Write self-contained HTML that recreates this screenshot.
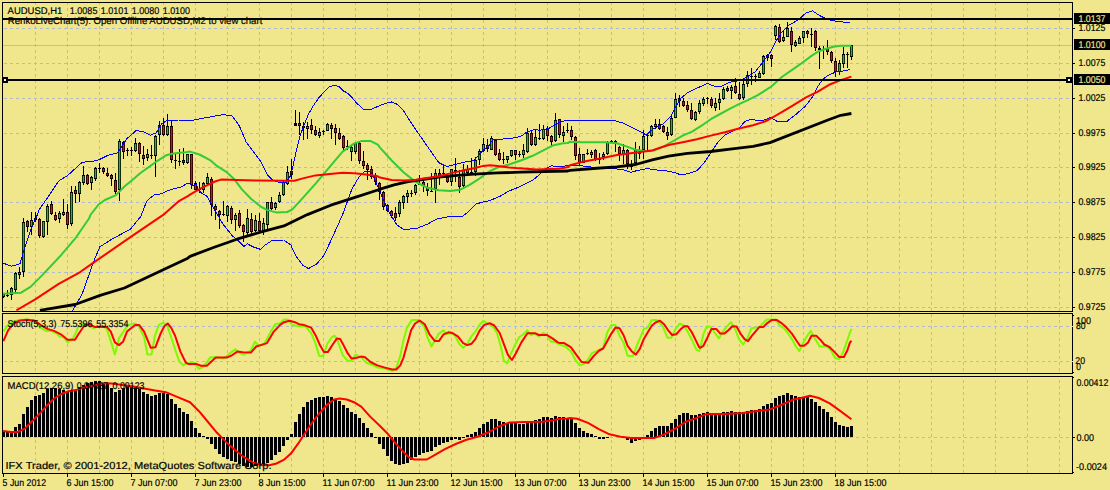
<!DOCTYPE html>
<html><head><meta charset="utf-8"><title>AUDUSD,H1</title>
<style>html,body{margin:0;padding:0;background:#f0e68c;overflow:hidden}body{width:1110px;height:490px}</style></head>
<body>
<svg width="1110" height="490" viewBox="0 0 1110 490" style="display:block;font-family:'Liberation Sans',sans-serif">
<rect width="1110" height="490" fill="#f0e68c"/>
<defs>
<clipPath id="cm"><rect x="3" y="3" width="1069" height="308"/></clipPath>
<clipPath id="cs"><rect x="3" y="314" width="1069" height="59"/></clipPath>
<clipPath id="cc"><rect x="3" y="377" width="1069" height="96"/></clipPath>
</defs>
<g shape-rendering="crispEdges">
<path d="M35.5 2V473" stroke="#b4b9cc" stroke-width="1" stroke-dasharray="3 3" stroke-dashoffset="0" fill="none"/>
<path d="M67.5 2V473" stroke="#b4b9cc" stroke-width="1" stroke-dasharray="3 3" stroke-dashoffset="0" fill="none"/>
<path d="M99.5 2V473" stroke="#b4b9cc" stroke-width="1" stroke-dasharray="3 3" stroke-dashoffset="0" fill="none"/>
<path d="M131.5 2V473" stroke="#b4b9cc" stroke-width="1" stroke-dasharray="3 3" stroke-dashoffset="0" fill="none"/>
<path d="M163.5 2V473" stroke="#b4b9cc" stroke-width="1" stroke-dasharray="3 3" stroke-dashoffset="0" fill="none"/>
<path d="M195.5 2V473" stroke="#b4b9cc" stroke-width="1" stroke-dasharray="3 3" stroke-dashoffset="0" fill="none"/>
<path d="M227.5 2V473" stroke="#b4b9cc" stroke-width="1" stroke-dasharray="3 3" stroke-dashoffset="0" fill="none"/>
<path d="M259.5 2V473" stroke="#b4b9cc" stroke-width="1" stroke-dasharray="3 3" stroke-dashoffset="0" fill="none"/>
<path d="M291.5 2V473" stroke="#b4b9cc" stroke-width="1" stroke-dasharray="3 3" stroke-dashoffset="0" fill="none"/>
<path d="M323.5 2V473" stroke="#b4b9cc" stroke-width="1" stroke-dasharray="3 3" stroke-dashoffset="0" fill="none"/>
<path d="M355.5 2V473" stroke="#b4b9cc" stroke-width="1" stroke-dasharray="3 3" stroke-dashoffset="0" fill="none"/>
<path d="M387.5 2V473" stroke="#b4b9cc" stroke-width="1" stroke-dasharray="3 3" stroke-dashoffset="0" fill="none"/>
<path d="M419.5 2V473" stroke="#b4b9cc" stroke-width="1" stroke-dasharray="3 3" stroke-dashoffset="0" fill="none"/>
<path d="M451.5 2V473" stroke="#b4b9cc" stroke-width="1" stroke-dasharray="3 3" stroke-dashoffset="0" fill="none"/>
<path d="M483.5 2V473" stroke="#b4b9cc" stroke-width="1" stroke-dasharray="3 3" stroke-dashoffset="0" fill="none"/>
<path d="M515.5 2V473" stroke="#b4b9cc" stroke-width="1" stroke-dasharray="3 3" stroke-dashoffset="0" fill="none"/>
<path d="M547.5 2V473" stroke="#b4b9cc" stroke-width="1" stroke-dasharray="3 3" stroke-dashoffset="0" fill="none"/>
<path d="M579.5 2V473" stroke="#b4b9cc" stroke-width="1" stroke-dasharray="3 3" stroke-dashoffset="0" fill="none"/>
<path d="M611.5 2V473" stroke="#b4b9cc" stroke-width="1" stroke-dasharray="3 3" stroke-dashoffset="0" fill="none"/>
<path d="M643.5 2V473" stroke="#b4b9cc" stroke-width="1" stroke-dasharray="3 3" stroke-dashoffset="0" fill="none"/>
<path d="M675.5 2V473" stroke="#b4b9cc" stroke-width="1" stroke-dasharray="3 3" stroke-dashoffset="0" fill="none"/>
<path d="M707.5 2V473" stroke="#b4b9cc" stroke-width="1" stroke-dasharray="3 3" stroke-dashoffset="0" fill="none"/>
<path d="M739.5 2V473" stroke="#b4b9cc" stroke-width="1" stroke-dasharray="3 3" stroke-dashoffset="0" fill="none"/>
<path d="M771.5 2V473" stroke="#b4b9cc" stroke-width="1" stroke-dasharray="3 3" stroke-dashoffset="0" fill="none"/>
<path d="M803.5 2V473" stroke="#b4b9cc" stroke-width="1" stroke-dasharray="3 3" stroke-dashoffset="0" fill="none"/>
<path d="M835.5 2V473" stroke="#b4b9cc" stroke-width="1" stroke-dasharray="3 3" stroke-dashoffset="0" fill="none"/>
<path d="M867.5 2V473" stroke="#b4b9cc" stroke-width="1" stroke-dasharray="3 3" stroke-dashoffset="0" fill="none"/>
<path d="M899.5 2V473" stroke="#b4b9cc" stroke-width="1" stroke-dasharray="3 3" stroke-dashoffset="0" fill="none"/>
<path d="M931.5 2V473" stroke="#b4b9cc" stroke-width="1" stroke-dasharray="3 3" stroke-dashoffset="0" fill="none"/>
<path d="M963.5 2V473" stroke="#b4b9cc" stroke-width="1" stroke-dasharray="3 3" stroke-dashoffset="0" fill="none"/>
<path d="M995.5 2V473" stroke="#b4b9cc" stroke-width="1" stroke-dasharray="3 3" stroke-dashoffset="0" fill="none"/>
<path d="M1027.5 2V473" stroke="#b4b9cc" stroke-width="1" stroke-dasharray="3 3" stroke-dashoffset="0" fill="none"/>
<path d="M1059.5 2V473" stroke="#b4b9cc" stroke-width="1" stroke-dasharray="3 3" stroke-dashoffset="0" fill="none"/>
<rect x="0" y="312" width="1110" height="1" fill="#f0e68c"/>
<rect x="0" y="374" width="1110" height="2" fill="#f0e68c"/>
<path d="M4 28.5H1070" stroke="#b4b9cc" stroke-width="1" stroke-dasharray="3 3" fill="none"/>
<path d="M4 63.5H1070" stroke="#b4b9cc" stroke-width="1" stroke-dasharray="3 3" fill="none"/>
<path d="M4 98.5H1070" stroke="#b4b9cc" stroke-width="1" stroke-dasharray="3 3" fill="none"/>
<path d="M4 133.5H1070" stroke="#b4b9cc" stroke-width="1" stroke-dasharray="3 3" fill="none"/>
<path d="M4 167.5H1070" stroke="#b4b9cc" stroke-width="1" stroke-dasharray="3 3" fill="none"/>
<path d="M4 202.5H1070" stroke="#b4b9cc" stroke-width="1" stroke-dasharray="3 3" fill="none"/>
<path d="M4 237.5H1070" stroke="#b4b9cc" stroke-width="1" stroke-dasharray="3 3" fill="none"/>
<path d="M4 272.5H1070" stroke="#b4b9cc" stroke-width="1" stroke-dasharray="3 3" fill="none"/>
<path d="M4 307.5H1070" stroke="#b4b9cc" stroke-width="1" stroke-dasharray="3 3" fill="none"/>
<path d="M4 326.5H1070" stroke="#b4b9cc" stroke-width="1" stroke-dasharray="3 3" fill="none"/>
<path d="M4 361.5H1070" stroke="#b4b9cc" stroke-width="1" stroke-dasharray="3 3" fill="none"/>
<path d="M4 437.5H1070" stroke="#b4b9cc" stroke-width="1" stroke-dasharray="3 3" fill="none"/>
<rect x="3" y="45" width="1069" height="1" fill="#b8bcc8"/>
</g>
<g clip-path="url(#cm)">
<g shape-rendering="crispEdges">
<rect x="3" y="293" width="1" height="5" fill="#000"/>
<rect x="2" y="294" width="3" height="3" fill="#000"/>
<rect x="2.75" y="295" width="1.5" height="1" fill="#28b828" shape-rendering="auto"/>
<rect x="7" y="290" width="1" height="7" fill="#000"/>
<rect x="6" y="295" width="3" height="1" fill="#000"/>
<rect x="11" y="287" width="1" height="13" fill="#000"/>
<rect x="10" y="288" width="3" height="7" fill="#000"/>
<rect x="10.75" y="289" width="1.5" height="5" fill="#28b828" shape-rendering="auto"/>
<rect x="15" y="272" width="1" height="21" fill="#000"/>
<rect x="14" y="273" width="3" height="17" fill="#000"/>
<rect x="14.75" y="274" width="1.5" height="15" fill="#28b828" shape-rendering="auto"/>
<rect x="19" y="267" width="1" height="12" fill="#000"/>
<rect x="18" y="272" width="3" height="3" fill="#000"/>
<rect x="18.75" y="273" width="1.5" height="1" fill="#28b828" shape-rendering="auto"/>
<rect x="23" y="218" width="1" height="59" fill="#000"/>
<rect x="22" y="222" width="3" height="50" fill="#000"/>
<rect x="22.75" y="223" width="1.5" height="48" fill="#28b828" shape-rendering="auto"/>
<rect x="27" y="220" width="1" height="12" fill="#000"/>
<rect x="26" y="221" width="3" height="6" fill="#000"/>
<rect x="26.75" y="222" width="1.5" height="4" fill="#f00808" shape-rendering="auto"/>
<rect x="31" y="212" width="1" height="23" fill="#000"/>
<rect x="30" y="220" width="3" height="7" fill="#000"/>
<rect x="30.75" y="221" width="1.5" height="5" fill="#28b828" shape-rendering="auto"/>
<rect x="35" y="212" width="1" height="10" fill="#000"/>
<rect x="34" y="218" width="3" height="2" fill="#000"/>
<rect x="39" y="218" width="1" height="20" fill="#000"/>
<rect x="38" y="219" width="3" height="17" fill="#000"/>
<rect x="38.75" y="220" width="1.5" height="15" fill="#f00808" shape-rendering="auto"/>
<rect x="43" y="221" width="1" height="17" fill="#000"/>
<rect x="42" y="221" width="3" height="16" fill="#000"/>
<rect x="42.75" y="222" width="1.5" height="14" fill="#28b828" shape-rendering="auto"/>
<rect x="47" y="204" width="1" height="31" fill="#000"/>
<rect x="46" y="206" width="3" height="16" fill="#000"/>
<rect x="46.75" y="207" width="1.5" height="14" fill="#28b828" shape-rendering="auto"/>
<rect x="51" y="201" width="1" height="14" fill="#000"/>
<rect x="50" y="204" width="3" height="10" fill="#000"/>
<rect x="50.75" y="205" width="1.5" height="8" fill="#f00808" shape-rendering="auto"/>
<rect x="55" y="212" width="1" height="9" fill="#000"/>
<rect x="54" y="215" width="3" height="5" fill="#000"/>
<rect x="54.75" y="216" width="1.5" height="3" fill="#f00808" shape-rendering="auto"/>
<rect x="59" y="211" width="1" height="12" fill="#000"/>
<rect x="58" y="213" width="3" height="6" fill="#000"/>
<rect x="58.75" y="214" width="1.5" height="4" fill="#28b828" shape-rendering="auto"/>
<rect x="63" y="199" width="1" height="17" fill="#000"/>
<rect x="62" y="212" width="3" height="3" fill="#000"/>
<rect x="62.75" y="213" width="1.5" height="1" fill="#28b828" shape-rendering="auto"/>
<rect x="67" y="204" width="1" height="25" fill="#000"/>
<rect x="66" y="212" width="3" height="13" fill="#000"/>
<rect x="66.75" y="213" width="1.5" height="11" fill="#f00808" shape-rendering="auto"/>
<rect x="71" y="186" width="1" height="40" fill="#000"/>
<rect x="70" y="192" width="3" height="32" fill="#000"/>
<rect x="70.75" y="193" width="1.5" height="30" fill="#28b828" shape-rendering="auto"/>
<rect x="75" y="186" width="1" height="17" fill="#000"/>
<rect x="74" y="190" width="3" height="4" fill="#000"/>
<rect x="74.75" y="191" width="1.5" height="2" fill="#f00808" shape-rendering="auto"/>
<rect x="79" y="181" width="1" height="21" fill="#000"/>
<rect x="78" y="182" width="3" height="12" fill="#000"/>
<rect x="78.75" y="183" width="1.5" height="10" fill="#28b828" shape-rendering="auto"/>
<rect x="83" y="166" width="1" height="19" fill="#000"/>
<rect x="82" y="175" width="3" height="8" fill="#000"/>
<rect x="82.75" y="176" width="1.5" height="6" fill="#28b828" shape-rendering="auto"/>
<rect x="87" y="174" width="1" height="11" fill="#000"/>
<rect x="86" y="175" width="3" height="9" fill="#000"/>
<rect x="86.75" y="176" width="1.5" height="7" fill="#f00808" shape-rendering="auto"/>
<rect x="91" y="176" width="1" height="14" fill="#000"/>
<rect x="90" y="177" width="3" height="6" fill="#000"/>
<rect x="90.75" y="178" width="1.5" height="4" fill="#28b828" shape-rendering="auto"/>
<rect x="95" y="167" width="1" height="14" fill="#000"/>
<rect x="94" y="168" width="3" height="11" fill="#000"/>
<rect x="94.75" y="169" width="1.5" height="9" fill="#28b828" shape-rendering="auto"/>
<rect x="99" y="163" width="1" height="10" fill="#000"/>
<rect x="98" y="168" width="3" height="1" fill="#000"/>
<rect x="103" y="167" width="1" height="7" fill="#000"/>
<rect x="102" y="168" width="3" height="4" fill="#000"/>
<rect x="102.75" y="169" width="1.5" height="2" fill="#f00808" shape-rendering="auto"/>
<rect x="107" y="168" width="1" height="9" fill="#000"/>
<rect x="106" y="173" width="3" height="3" fill="#000"/>
<rect x="106.75" y="174" width="1.5" height="1" fill="#f00808" shape-rendering="auto"/>
<rect x="111" y="174" width="1" height="12" fill="#000"/>
<rect x="110" y="175" width="3" height="4" fill="#000"/>
<rect x="110.75" y="176" width="1.5" height="2" fill="#f00808" shape-rendering="auto"/>
<rect x="115" y="173" width="1" height="21" fill="#000"/>
<rect x="114" y="180" width="3" height="12" fill="#000"/>
<rect x="114.75" y="181" width="1.5" height="10" fill="#f00808" shape-rendering="auto"/>
<rect x="119" y="139" width="1" height="62" fill="#000"/>
<rect x="118" y="141" width="3" height="49" fill="#000"/>
<rect x="118.75" y="142" width="1.5" height="47" fill="#28b828" shape-rendering="auto"/>
<rect x="123" y="141" width="1" height="18" fill="#000"/>
<rect x="122" y="142" width="3" height="10" fill="#000"/>
<rect x="122.75" y="143" width="1.5" height="8" fill="#f00808" shape-rendering="auto"/>
<rect x="127" y="148" width="1" height="8" fill="#000"/>
<rect x="126" y="150" width="3" height="1" fill="#000"/>
<rect x="131" y="147" width="1" height="9" fill="#000"/>
<rect x="130" y="150" width="3" height="1" fill="#000"/>
<rect x="135" y="138" width="1" height="14" fill="#000"/>
<rect x="134" y="143" width="3" height="8" fill="#000"/>
<rect x="134.75" y="144" width="1.5" height="6" fill="#28b828" shape-rendering="auto"/>
<rect x="139" y="142" width="1" height="20" fill="#000"/>
<rect x="138" y="143" width="3" height="11" fill="#000"/>
<rect x="138.75" y="144" width="1.5" height="9" fill="#f00808" shape-rendering="auto"/>
<rect x="143" y="146" width="1" height="19" fill="#000"/>
<rect x="142" y="155" width="3" height="4" fill="#000"/>
<rect x="142.75" y="156" width="1.5" height="2" fill="#f00808" shape-rendering="auto"/>
<rect x="147" y="149" width="1" height="12" fill="#000"/>
<rect x="146" y="154" width="3" height="4" fill="#000"/>
<rect x="146.75" y="155" width="1.5" height="2" fill="#28b828" shape-rendering="auto"/>
<rect x="151" y="145" width="1" height="14" fill="#000"/>
<rect x="150" y="155" width="3" height="1" fill="#000"/>
<rect x="155" y="135" width="1" height="42" fill="#000"/>
<rect x="154" y="136" width="3" height="20" fill="#000"/>
<rect x="154.75" y="137" width="1.5" height="18" fill="#28b828" shape-rendering="auto"/>
<rect x="159" y="121" width="1" height="24" fill="#000"/>
<rect x="158" y="125" width="3" height="10" fill="#000"/>
<rect x="158.75" y="126" width="1.5" height="8" fill="#28b828" shape-rendering="auto"/>
<rect x="163" y="118" width="1" height="18" fill="#000"/>
<rect x="162" y="125" width="3" height="10" fill="#000"/>
<rect x="162.75" y="126" width="1.5" height="8" fill="#f00808" shape-rendering="auto"/>
<rect x="167" y="114" width="1" height="22" fill="#000"/>
<rect x="166" y="126" width="3" height="9" fill="#000"/>
<rect x="166.75" y="127" width="1.5" height="7" fill="#28b828" shape-rendering="auto"/>
<rect x="171" y="120" width="1" height="43" fill="#000"/>
<rect x="170" y="126" width="3" height="34" fill="#000"/>
<rect x="170.75" y="127" width="1.5" height="32" fill="#f00808" shape-rendering="auto"/>
<rect x="175" y="153" width="1" height="16" fill="#000"/>
<rect x="174" y="160" width="3" height="1" fill="#000"/>
<rect x="179" y="149" width="1" height="17" fill="#000"/>
<rect x="178" y="161" width="3" height="1" fill="#000"/>
<rect x="183" y="148" width="1" height="17" fill="#000"/>
<rect x="182" y="160" width="3" height="3" fill="#000"/>
<rect x="182.75" y="161" width="1.5" height="1" fill="#f00808" shape-rendering="auto"/>
<rect x="187" y="154" width="1" height="10" fill="#000"/>
<rect x="186" y="154" width="3" height="9" fill="#000"/>
<rect x="186.75" y="155" width="1.5" height="7" fill="#28b828" shape-rendering="auto"/>
<rect x="191" y="154" width="1" height="35" fill="#000"/>
<rect x="190" y="154" width="3" height="31" fill="#000"/>
<rect x="190.75" y="155" width="1.5" height="29" fill="#f00808" shape-rendering="auto"/>
<rect x="195" y="181" width="1" height="9" fill="#000"/>
<rect x="194" y="183" width="3" height="7" fill="#000"/>
<rect x="194.75" y="184" width="1.5" height="5" fill="#f00808" shape-rendering="auto"/>
<rect x="199" y="182" width="1" height="11" fill="#000"/>
<rect x="198" y="189" width="3" height="1" fill="#000"/>
<rect x="203" y="182" width="1" height="11" fill="#000"/>
<rect x="202" y="183" width="3" height="7" fill="#000"/>
<rect x="202.75" y="184" width="1.5" height="5" fill="#28b828" shape-rendering="auto"/>
<rect x="207" y="173" width="1" height="13" fill="#000"/>
<rect x="206" y="177" width="3" height="7" fill="#000"/>
<rect x="206.75" y="178" width="1.5" height="5" fill="#28b828" shape-rendering="auto"/>
<rect x="211" y="177" width="1" height="39" fill="#000"/>
<rect x="210" y="179" width="3" height="26" fill="#000"/>
<rect x="210.75" y="180" width="1.5" height="24" fill="#f00808" shape-rendering="auto"/>
<rect x="215" y="204" width="1" height="16" fill="#000"/>
<rect x="214" y="206" width="3" height="4" fill="#000"/>
<rect x="214.75" y="207" width="1.5" height="2" fill="#f00808" shape-rendering="auto"/>
<rect x="219" y="210" width="1" height="19" fill="#000"/>
<rect x="218" y="211" width="3" height="4" fill="#000"/>
<rect x="218.75" y="212" width="1.5" height="2" fill="#f00808" shape-rendering="auto"/>
<rect x="223" y="201" width="1" height="15" fill="#000"/>
<rect x="222" y="214" width="3" height="1" fill="#000"/>
<rect x="227" y="205" width="1" height="17" fill="#000"/>
<rect x="226" y="206" width="3" height="10" fill="#000"/>
<rect x="226.75" y="207" width="1.5" height="8" fill="#28b828" shape-rendering="auto"/>
<rect x="231" y="206" width="1" height="18" fill="#000"/>
<rect x="230" y="208" width="3" height="12" fill="#000"/>
<rect x="230.75" y="209" width="1.5" height="10" fill="#f00808" shape-rendering="auto"/>
<rect x="235" y="213" width="1" height="18" fill="#000"/>
<rect x="234" y="215" width="3" height="5" fill="#000"/>
<rect x="234.75" y="216" width="1.5" height="3" fill="#28b828" shape-rendering="auto"/>
<rect x="239" y="210" width="1" height="18" fill="#000"/>
<rect x="238" y="213" width="3" height="13" fill="#000"/>
<rect x="238.75" y="214" width="1.5" height="11" fill="#f00808" shape-rendering="auto"/>
<rect x="243" y="224" width="1" height="18" fill="#000"/>
<rect x="242" y="225" width="3" height="7" fill="#000"/>
<rect x="242.75" y="226" width="1.5" height="5" fill="#f00808" shape-rendering="auto"/>
<rect x="247" y="209" width="1" height="26" fill="#000"/>
<rect x="246" y="218" width="3" height="15" fill="#000"/>
<rect x="246.75" y="219" width="1.5" height="13" fill="#28b828" shape-rendering="auto"/>
<rect x="251" y="213" width="1" height="21" fill="#000"/>
<rect x="250" y="219" width="3" height="13" fill="#000"/>
<rect x="250.75" y="220" width="1.5" height="11" fill="#f00808" shape-rendering="auto"/>
<rect x="255" y="215" width="1" height="17" fill="#000"/>
<rect x="254" y="220" width="3" height="11" fill="#000"/>
<rect x="254.75" y="221" width="1.5" height="9" fill="#28b828" shape-rendering="auto"/>
<rect x="259" y="213" width="1" height="19" fill="#000"/>
<rect x="258" y="221" width="3" height="10" fill="#000"/>
<rect x="258.75" y="222" width="1.5" height="8" fill="#f00808" shape-rendering="auto"/>
<rect x="263" y="218" width="1" height="17" fill="#000"/>
<rect x="262" y="223" width="3" height="8" fill="#000"/>
<rect x="262.75" y="224" width="1.5" height="6" fill="#28b828" shape-rendering="auto"/>
<rect x="267" y="202" width="1" height="27" fill="#000"/>
<rect x="266" y="202" width="3" height="23" fill="#000"/>
<rect x="266.75" y="203" width="1.5" height="21" fill="#28b828" shape-rendering="auto"/>
<rect x="271" y="197" width="1" height="13" fill="#000"/>
<rect x="270" y="202" width="3" height="7" fill="#000"/>
<rect x="270.75" y="203" width="1.5" height="5" fill="#f00808" shape-rendering="auto"/>
<rect x="275" y="202" width="1" height="8" fill="#000"/>
<rect x="274" y="203" width="3" height="5" fill="#000"/>
<rect x="274.75" y="204" width="1.5" height="3" fill="#28b828" shape-rendering="auto"/>
<rect x="279" y="192" width="1" height="11" fill="#000"/>
<rect x="278" y="195" width="3" height="7" fill="#000"/>
<rect x="278.75" y="196" width="1.5" height="5" fill="#28b828" shape-rendering="auto"/>
<rect x="283" y="181" width="1" height="15" fill="#000"/>
<rect x="282" y="182" width="3" height="13" fill="#000"/>
<rect x="282.75" y="183" width="1.5" height="11" fill="#28b828" shape-rendering="auto"/>
<rect x="287" y="166" width="1" height="19" fill="#000"/>
<rect x="286" y="172" width="3" height="12" fill="#000"/>
<rect x="286.75" y="173" width="1.5" height="10" fill="#28b828" shape-rendering="auto"/>
<rect x="291" y="159" width="1" height="20" fill="#000"/>
<rect x="290" y="171" width="3" height="4" fill="#000"/>
<rect x="290.75" y="172" width="1.5" height="2" fill="#f00808" shape-rendering="auto"/>
<rect x="295" y="110" width="1" height="16" fill="#000"/>
<rect x="294" y="123" width="3" height="3" fill="#000"/>
<rect x="299" y="112" width="1" height="23" fill="#000"/>
<rect x="298" y="123" width="3" height="3" fill="#000"/>
<rect x="298.75" y="124" width="1.5" height="1" fill="#f00808" shape-rendering="auto"/>
<rect x="303" y="122" width="1" height="18" fill="#000"/>
<rect x="302" y="126" width="3" height="2" fill="#000"/>
<rect x="307" y="122" width="1" height="17" fill="#000"/>
<rect x="306" y="126" width="3" height="3" fill="#000"/>
<rect x="306.75" y="127" width="1.5" height="1" fill="#28b828" shape-rendering="auto"/>
<rect x="311" y="119" width="1" height="15" fill="#000"/>
<rect x="310" y="125" width="3" height="5" fill="#000"/>
<rect x="310.75" y="126" width="1.5" height="3" fill="#f00808" shape-rendering="auto"/>
<rect x="315" y="126" width="1" height="10" fill="#000"/>
<rect x="314" y="130" width="3" height="5" fill="#000"/>
<rect x="314.75" y="131" width="1.5" height="3" fill="#f00808" shape-rendering="auto"/>
<rect x="319" y="128" width="1" height="10" fill="#000"/>
<rect x="318" y="132" width="3" height="4" fill="#000"/>
<rect x="318.75" y="133" width="1.5" height="2" fill="#28b828" shape-rendering="auto"/>
<rect x="323" y="130" width="1" height="5" fill="#000"/>
<rect x="322" y="131" width="3" height="1" fill="#000"/>
<rect x="327" y="123" width="1" height="8" fill="#000"/>
<rect x="326" y="124" width="3" height="7" fill="#000"/>
<rect x="326.75" y="125" width="1.5" height="5" fill="#28b828" shape-rendering="auto"/>
<rect x="331" y="123" width="1" height="16" fill="#000"/>
<rect x="330" y="125" width="3" height="4" fill="#000"/>
<rect x="330.75" y="126" width="1.5" height="2" fill="#f00808" shape-rendering="auto"/>
<rect x="335" y="124" width="1" height="21" fill="#000"/>
<rect x="334" y="128" width="3" height="5" fill="#000"/>
<rect x="334.75" y="129" width="1.5" height="3" fill="#f00808" shape-rendering="auto"/>
<rect x="339" y="128" width="1" height="12" fill="#000"/>
<rect x="338" y="133" width="3" height="6" fill="#000"/>
<rect x="338.75" y="134" width="1.5" height="4" fill="#f00808" shape-rendering="auto"/>
<rect x="343" y="135" width="1" height="16" fill="#000"/>
<rect x="342" y="136" width="3" height="12" fill="#000"/>
<rect x="342.75" y="137" width="1.5" height="10" fill="#f00808" shape-rendering="auto"/>
<rect x="347" y="140" width="1" height="10" fill="#000"/>
<rect x="346" y="146" width="3" height="1" fill="#000"/>
<rect x="351" y="145" width="1" height="16" fill="#000"/>
<rect x="350" y="147" width="3" height="5" fill="#000"/>
<rect x="350.75" y="148" width="1.5" height="3" fill="#28b828" shape-rendering="auto"/>
<rect x="355" y="142" width="1" height="12" fill="#000"/>
<rect x="354" y="143" width="3" height="9" fill="#000"/>
<rect x="354.75" y="144" width="1.5" height="7" fill="#28b828" shape-rendering="auto"/>
<rect x="359" y="141" width="1" height="23" fill="#000"/>
<rect x="358" y="143" width="3" height="18" fill="#000"/>
<rect x="358.75" y="144" width="1.5" height="16" fill="#f00808" shape-rendering="auto"/>
<rect x="363" y="151" width="1" height="18" fill="#000"/>
<rect x="362" y="161" width="3" height="5" fill="#000"/>
<rect x="362.75" y="162" width="1.5" height="3" fill="#f00808" shape-rendering="auto"/>
<rect x="367" y="163" width="1" height="17" fill="#000"/>
<rect x="366" y="165" width="3" height="5" fill="#000"/>
<rect x="366.75" y="166" width="1.5" height="3" fill="#f00808" shape-rendering="auto"/>
<rect x="371" y="166" width="1" height="13" fill="#000"/>
<rect x="370" y="169" width="3" height="8" fill="#000"/>
<rect x="370.75" y="170" width="1.5" height="6" fill="#f00808" shape-rendering="auto"/>
<rect x="375" y="173" width="1" height="12" fill="#000"/>
<rect x="374" y="176" width="3" height="6" fill="#000"/>
<rect x="374.75" y="177" width="1.5" height="4" fill="#f00808" shape-rendering="auto"/>
<rect x="379" y="182" width="1" height="18" fill="#000"/>
<rect x="378" y="183" width="3" height="9" fill="#000"/>
<rect x="378.75" y="184" width="1.5" height="7" fill="#f00808" shape-rendering="auto"/>
<rect x="383" y="191" width="1" height="19" fill="#000"/>
<rect x="382" y="192" width="3" height="15" fill="#000"/>
<rect x="382.75" y="193" width="1.5" height="13" fill="#f00808" shape-rendering="auto"/>
<rect x="387" y="204" width="1" height="8" fill="#000"/>
<rect x="386" y="205" width="3" height="6" fill="#000"/>
<rect x="386.75" y="206" width="1.5" height="4" fill="#f00808" shape-rendering="auto"/>
<rect x="391" y="210" width="1" height="8" fill="#000"/>
<rect x="390" y="211" width="3" height="5" fill="#000"/>
<rect x="390.75" y="212" width="1.5" height="3" fill="#f00808" shape-rendering="auto"/>
<rect x="395" y="207" width="1" height="14" fill="#000"/>
<rect x="394" y="213" width="3" height="5" fill="#000"/>
<rect x="394.75" y="214" width="1.5" height="3" fill="#f00808" shape-rendering="auto"/>
<rect x="399" y="200" width="1" height="17" fill="#000"/>
<rect x="398" y="202" width="3" height="12" fill="#000"/>
<rect x="398.75" y="203" width="1.5" height="10" fill="#28b828" shape-rendering="auto"/>
<rect x="403" y="195" width="1" height="14" fill="#000"/>
<rect x="402" y="196" width="3" height="7" fill="#000"/>
<rect x="402.75" y="197" width="1.5" height="5" fill="#28b828" shape-rendering="auto"/>
<rect x="407" y="190" width="1" height="13" fill="#000"/>
<rect x="406" y="193" width="3" height="4" fill="#000"/>
<rect x="406.75" y="194" width="1.5" height="2" fill="#28b828" shape-rendering="auto"/>
<rect x="411" y="190" width="1" height="7" fill="#000"/>
<rect x="410" y="193" width="3" height="1" fill="#000"/>
<rect x="415" y="184" width="1" height="11" fill="#000"/>
<rect x="414" y="185" width="3" height="8" fill="#000"/>
<rect x="414.75" y="186" width="1.5" height="6" fill="#28b828" shape-rendering="auto"/>
<rect x="419" y="175" width="1" height="10" fill="#000"/>
<rect x="418" y="184" width="3" height="1" fill="#000"/>
<rect x="423" y="178" width="1" height="14" fill="#000"/>
<rect x="422" y="182" width="3" height="4" fill="#000"/>
<rect x="422.75" y="183" width="1.5" height="2" fill="#f00808" shape-rendering="auto"/>
<rect x="427" y="183" width="1" height="13" fill="#000"/>
<rect x="426" y="187" width="3" height="4" fill="#000"/>
<rect x="426.75" y="188" width="1.5" height="2" fill="#f00808" shape-rendering="auto"/>
<rect x="431" y="173" width="1" height="19" fill="#000"/>
<rect x="430" y="191" width="3" height="1" fill="#000"/>
<rect x="435" y="169" width="1" height="34" fill="#000"/>
<rect x="434" y="173" width="3" height="16" fill="#000"/>
<rect x="434.75" y="174" width="1.5" height="14" fill="#28b828" shape-rendering="auto"/>
<rect x="439" y="169" width="1" height="16" fill="#000"/>
<rect x="438" y="173" width="3" height="4" fill="#000"/>
<rect x="438.75" y="174" width="1.5" height="2" fill="#f00808" shape-rendering="auto"/>
<rect x="443" y="165" width="1" height="12" fill="#000"/>
<rect x="442" y="173" width="3" height="1" fill="#000"/>
<rect x="447" y="176" width="1" height="7" fill="#000"/>
<rect x="446" y="177" width="3" height="5" fill="#000"/>
<rect x="446.75" y="178" width="1.5" height="3" fill="#f00808" shape-rendering="auto"/>
<rect x="451" y="169" width="1" height="17" fill="#000"/>
<rect x="450" y="169" width="3" height="13" fill="#000"/>
<rect x="450.75" y="170" width="1.5" height="11" fill="#28b828" shape-rendering="auto"/>
<rect x="455" y="158" width="1" height="24" fill="#000"/>
<rect x="454" y="170" width="3" height="2" fill="#000"/>
<rect x="459" y="170" width="1" height="23" fill="#000"/>
<rect x="458" y="177" width="3" height="10" fill="#000"/>
<rect x="458.75" y="178" width="1.5" height="8" fill="#f00808" shape-rendering="auto"/>
<rect x="463" y="164" width="1" height="23" fill="#000"/>
<rect x="462" y="170" width="3" height="16" fill="#000"/>
<rect x="462.75" y="171" width="1.5" height="14" fill="#28b828" shape-rendering="auto"/>
<rect x="467" y="165" width="1" height="10" fill="#000"/>
<rect x="466" y="169" width="3" height="4" fill="#000"/>
<rect x="466.75" y="170" width="1.5" height="2" fill="#28b828" shape-rendering="auto"/>
<rect x="471" y="158" width="1" height="17" fill="#000"/>
<rect x="470" y="172" width="3" height="1" fill="#000"/>
<rect x="475" y="157" width="1" height="19" fill="#000"/>
<rect x="474" y="160" width="3" height="12" fill="#000"/>
<rect x="474.75" y="161" width="1.5" height="10" fill="#28b828" shape-rendering="auto"/>
<rect x="479" y="149" width="1" height="16" fill="#000"/>
<rect x="478" y="151" width="3" height="9" fill="#000"/>
<rect x="478.75" y="152" width="1.5" height="7" fill="#28b828" shape-rendering="auto"/>
<rect x="483" y="138" width="1" height="14" fill="#000"/>
<rect x="482" y="144" width="3" height="7" fill="#000"/>
<rect x="482.75" y="145" width="1.5" height="5" fill="#28b828" shape-rendering="auto"/>
<rect x="487" y="139" width="1" height="13" fill="#000"/>
<rect x="486" y="145" width="3" height="4" fill="#000"/>
<rect x="486.75" y="146" width="1.5" height="2" fill="#f00808" shape-rendering="auto"/>
<rect x="491" y="136" width="1" height="14" fill="#000"/>
<rect x="490" y="138" width="3" height="12" fill="#000"/>
<rect x="490.75" y="139" width="1.5" height="10" fill="#28b828" shape-rendering="auto"/>
<rect x="495" y="139" width="1" height="17" fill="#000"/>
<rect x="494" y="140" width="3" height="15" fill="#000"/>
<rect x="494.75" y="141" width="1.5" height="13" fill="#f00808" shape-rendering="auto"/>
<rect x="499" y="149" width="1" height="12" fill="#000"/>
<rect x="498" y="153" width="3" height="7" fill="#000"/>
<rect x="498.75" y="154" width="1.5" height="5" fill="#f00808" shape-rendering="auto"/>
<rect x="503" y="152" width="1" height="12" fill="#000"/>
<rect x="502" y="159" width="3" height="1" fill="#000"/>
<rect x="507" y="156" width="1" height="7" fill="#000"/>
<rect x="506" y="156" width="3" height="4" fill="#000"/>
<rect x="506.75" y="157" width="1.5" height="2" fill="#28b828" shape-rendering="auto"/>
<rect x="511" y="150" width="1" height="7" fill="#000"/>
<rect x="510" y="150" width="3" height="6" fill="#000"/>
<rect x="510.75" y="151" width="1.5" height="4" fill="#28b828" shape-rendering="auto"/>
<rect x="515" y="150" width="1" height="10" fill="#000"/>
<rect x="514" y="150" width="3" height="5" fill="#000"/>
<rect x="514.75" y="151" width="1.5" height="3" fill="#f00808" shape-rendering="auto"/>
<rect x="519" y="151" width="1" height="6" fill="#000"/>
<rect x="518" y="154" width="3" height="1" fill="#000"/>
<rect x="523" y="144" width="1" height="14" fill="#000"/>
<rect x="522" y="150" width="3" height="5" fill="#000"/>
<rect x="522.75" y="151" width="1.5" height="3" fill="#28b828" shape-rendering="auto"/>
<rect x="527" y="128" width="1" height="25" fill="#000"/>
<rect x="526" y="133" width="3" height="19" fill="#000"/>
<rect x="526.75" y="134" width="1.5" height="17" fill="#28b828" shape-rendering="auto"/>
<rect x="531" y="130" width="1" height="16" fill="#000"/>
<rect x="530" y="133" width="3" height="12" fill="#000"/>
<rect x="530.75" y="134" width="1.5" height="10" fill="#f00808" shape-rendering="auto"/>
<rect x="535" y="129" width="1" height="17" fill="#000"/>
<rect x="534" y="137" width="3" height="8" fill="#000"/>
<rect x="534.75" y="138" width="1.5" height="6" fill="#28b828" shape-rendering="auto"/>
<rect x="539" y="124" width="1" height="16" fill="#000"/>
<rect x="538" y="138" width="3" height="1" fill="#000"/>
<rect x="543" y="125" width="1" height="15" fill="#000"/>
<rect x="542" y="129" width="3" height="10" fill="#000"/>
<rect x="542.75" y="130" width="1.5" height="8" fill="#28b828" shape-rendering="auto"/>
<rect x="547" y="126" width="1" height="15" fill="#000"/>
<rect x="546" y="129" width="3" height="7" fill="#000"/>
<rect x="546.75" y="130" width="1.5" height="5" fill="#f00808" shape-rendering="auto"/>
<rect x="551" y="135" width="1" height="11" fill="#000"/>
<rect x="550" y="136" width="3" height="6" fill="#000"/>
<rect x="550.75" y="137" width="1.5" height="4" fill="#f00808" shape-rendering="auto"/>
<rect x="555" y="113" width="1" height="29" fill="#000"/>
<rect x="554" y="120" width="3" height="21" fill="#000"/>
<rect x="554.75" y="121" width="1.5" height="19" fill="#28b828" shape-rendering="auto"/>
<rect x="559" y="119" width="1" height="19" fill="#000"/>
<rect x="558" y="119" width="3" height="16" fill="#000"/>
<rect x="558.75" y="120" width="1.5" height="14" fill="#f00808" shape-rendering="auto"/>
<rect x="563" y="126" width="1" height="16" fill="#000"/>
<rect x="562" y="132" width="3" height="4" fill="#000"/>
<rect x="562.75" y="133" width="1.5" height="2" fill="#28b828" shape-rendering="auto"/>
<rect x="567" y="123" width="1" height="10" fill="#000"/>
<rect x="566" y="130" width="3" height="1" fill="#000"/>
<rect x="571" y="126" width="1" height="14" fill="#000"/>
<rect x="570" y="130" width="3" height="7" fill="#000"/>
<rect x="570.75" y="131" width="1.5" height="5" fill="#f00808" shape-rendering="auto"/>
<rect x="575" y="136" width="1" height="24" fill="#000"/>
<rect x="574" y="137" width="3" height="19" fill="#000"/>
<rect x="574.75" y="138" width="1.5" height="17" fill="#f00808" shape-rendering="auto"/>
<rect x="579" y="148" width="1" height="18" fill="#000"/>
<rect x="578" y="154" width="3" height="9" fill="#000"/>
<rect x="578.75" y="155" width="1.5" height="7" fill="#f00808" shape-rendering="auto"/>
<rect x="583" y="154" width="1" height="9" fill="#000"/>
<rect x="582" y="154" width="3" height="9" fill="#000"/>
<rect x="582.75" y="155" width="1.5" height="7" fill="#28b828" shape-rendering="auto"/>
<rect x="587" y="149" width="1" height="6" fill="#000"/>
<rect x="586" y="153" width="3" height="1" fill="#000"/>
<rect x="591" y="150" width="1" height="8" fill="#000"/>
<rect x="590" y="152" width="3" height="3" fill="#000"/>
<rect x="590.75" y="153" width="1.5" height="1" fill="#28b828" shape-rendering="auto"/>
<rect x="595" y="149" width="1" height="12" fill="#000"/>
<rect x="594" y="150" width="3" height="10" fill="#000"/>
<rect x="594.75" y="151" width="1.5" height="8" fill="#f00808" shape-rendering="auto"/>
<rect x="599" y="153" width="1" height="11" fill="#000"/>
<rect x="598" y="159" width="3" height="1" fill="#000"/>
<rect x="603" y="152" width="1" height="8" fill="#000"/>
<rect x="602" y="154" width="3" height="3" fill="#000"/>
<rect x="602.75" y="155" width="1.5" height="1" fill="#28b828" shape-rendering="auto"/>
<rect x="607" y="141" width="1" height="14" fill="#000"/>
<rect x="606" y="142" width="3" height="12" fill="#000"/>
<rect x="606.75" y="143" width="1.5" height="10" fill="#28b828" shape-rendering="auto"/>
<rect x="611" y="140" width="1" height="3" fill="#000"/>
<rect x="610" y="141" width="3" height="1" fill="#000"/>
<rect x="615" y="140" width="1" height="12" fill="#000"/>
<rect x="614" y="141" width="3" height="3" fill="#000"/>
<rect x="614.75" y="142" width="1.5" height="1" fill="#f00808" shape-rendering="auto"/>
<rect x="619" y="146" width="1" height="15" fill="#000"/>
<rect x="618" y="147" width="3" height="7" fill="#000"/>
<rect x="618.75" y="148" width="1.5" height="5" fill="#f00808" shape-rendering="auto"/>
<rect x="623" y="144" width="1" height="20" fill="#000"/>
<rect x="622" y="150" width="3" height="5" fill="#000"/>
<rect x="622.75" y="151" width="1.5" height="3" fill="#28b828" shape-rendering="auto"/>
<rect x="627" y="149" width="1" height="20" fill="#000"/>
<rect x="626" y="150" width="3" height="14" fill="#000"/>
<rect x="626.75" y="151" width="1.5" height="12" fill="#f00808" shape-rendering="auto"/>
<rect x="631" y="160" width="1" height="10" fill="#000"/>
<rect x="630" y="164" width="3" height="3" fill="#000"/>
<rect x="635" y="142" width="1" height="22" fill="#000"/>
<rect x="634" y="150" width="3" height="13" fill="#000"/>
<rect x="634.75" y="151" width="1.5" height="11" fill="#28b828" shape-rendering="auto"/>
<rect x="639" y="146" width="1" height="13" fill="#000"/>
<rect x="638" y="153" width="3" height="1" fill="#000"/>
<rect x="643" y="130" width="1" height="29" fill="#000"/>
<rect x="642" y="136" width="3" height="14" fill="#000"/>
<rect x="642.75" y="137" width="1.5" height="12" fill="#28b828" shape-rendering="auto"/>
<rect x="647" y="134" width="1" height="18" fill="#000"/>
<rect x="646" y="135" width="3" height="1" fill="#000"/>
<rect x="651" y="125" width="1" height="12" fill="#000"/>
<rect x="650" y="126" width="3" height="10" fill="#000"/>
<rect x="650.75" y="127" width="1.5" height="8" fill="#28b828" shape-rendering="auto"/>
<rect x="655" y="119" width="1" height="10" fill="#000"/>
<rect x="654" y="124" width="3" height="3" fill="#000"/>
<rect x="654.75" y="125" width="1.5" height="1" fill="#28b828" shape-rendering="auto"/>
<rect x="659" y="119" width="1" height="11" fill="#000"/>
<rect x="658" y="124" width="3" height="5" fill="#000"/>
<rect x="658.75" y="125" width="1.5" height="3" fill="#f00808" shape-rendering="auto"/>
<rect x="663" y="125" width="1" height="8" fill="#000"/>
<rect x="662" y="126" width="3" height="6" fill="#000"/>
<rect x="662.75" y="127" width="1.5" height="4" fill="#f00808" shape-rendering="auto"/>
<rect x="667" y="127" width="1" height="13" fill="#000"/>
<rect x="666" y="132" width="3" height="4" fill="#000"/>
<rect x="666.75" y="133" width="1.5" height="2" fill="#f00808" shape-rendering="auto"/>
<rect x="671" y="114" width="1" height="22" fill="#000"/>
<rect x="670" y="118" width="3" height="17" fill="#000"/>
<rect x="670.75" y="119" width="1.5" height="15" fill="#28b828" shape-rendering="auto"/>
<rect x="675" y="93" width="1" height="25" fill="#000"/>
<rect x="674" y="99" width="3" height="19" fill="#000"/>
<rect x="674.75" y="100" width="1.5" height="17" fill="#28b828" shape-rendering="auto"/>
<rect x="679" y="95" width="1" height="12" fill="#000"/>
<rect x="678" y="98" width="3" height="3" fill="#000"/>
<rect x="678.75" y="99" width="1.5" height="1" fill="#f00808" shape-rendering="auto"/>
<rect x="683" y="98" width="1" height="9" fill="#000"/>
<rect x="682" y="101" width="3" height="5" fill="#000"/>
<rect x="682.75" y="102" width="1.5" height="3" fill="#f00808" shape-rendering="auto"/>
<rect x="687" y="101" width="1" height="11" fill="#000"/>
<rect x="686" y="105" width="3" height="5" fill="#000"/>
<rect x="686.75" y="106" width="1.5" height="3" fill="#f00808" shape-rendering="auto"/>
<rect x="691" y="103" width="1" height="17" fill="#000"/>
<rect x="690" y="110" width="3" height="9" fill="#000"/>
<rect x="690.75" y="111" width="1.5" height="7" fill="#f00808" shape-rendering="auto"/>
<rect x="695" y="111" width="1" height="10" fill="#000"/>
<rect x="694" y="112" width="3" height="8" fill="#000"/>
<rect x="694.75" y="113" width="1.5" height="6" fill="#28b828" shape-rendering="auto"/>
<rect x="699" y="100" width="1" height="14" fill="#000"/>
<rect x="698" y="103" width="3" height="9" fill="#000"/>
<rect x="698.75" y="104" width="1.5" height="7" fill="#28b828" shape-rendering="auto"/>
<rect x="703" y="97" width="1" height="9" fill="#000"/>
<rect x="702" y="99" width="3" height="5" fill="#000"/>
<rect x="702.75" y="100" width="1.5" height="3" fill="#28b828" shape-rendering="auto"/>
<rect x="707" y="97" width="1" height="7" fill="#000"/>
<rect x="706" y="98" width="3" height="1" fill="#000"/>
<rect x="711" y="97" width="1" height="11" fill="#000"/>
<rect x="710" y="99" width="3" height="7" fill="#000"/>
<rect x="710.75" y="100" width="1.5" height="5" fill="#f00808" shape-rendering="auto"/>
<rect x="715" y="98" width="1" height="13" fill="#000"/>
<rect x="714" y="103" width="3" height="5" fill="#000"/>
<rect x="714.75" y="104" width="1.5" height="3" fill="#28b828" shape-rendering="auto"/>
<rect x="719" y="93" width="1" height="17" fill="#000"/>
<rect x="718" y="99" width="3" height="4" fill="#000"/>
<rect x="718.75" y="100" width="1.5" height="2" fill="#28b828" shape-rendering="auto"/>
<rect x="723" y="87" width="1" height="13" fill="#000"/>
<rect x="722" y="89" width="3" height="10" fill="#000"/>
<rect x="722.75" y="90" width="1.5" height="8" fill="#28b828" shape-rendering="auto"/>
<rect x="727" y="86" width="1" height="6" fill="#000"/>
<rect x="726" y="88" width="3" height="3" fill="#000"/>
<rect x="726.75" y="89" width="1.5" height="1" fill="#f00808" shape-rendering="auto"/>
<rect x="731" y="85" width="1" height="14" fill="#000"/>
<rect x="730" y="87" width="3" height="4" fill="#000"/>
<rect x="730.75" y="88" width="1.5" height="2" fill="#28b828" shape-rendering="auto"/>
<rect x="735" y="78" width="1" height="16" fill="#000"/>
<rect x="734" y="86" width="3" height="7" fill="#000"/>
<rect x="734.75" y="87" width="1.5" height="5" fill="#f00808" shape-rendering="auto"/>
<rect x="739" y="82" width="1" height="18" fill="#000"/>
<rect x="738" y="94" width="3" height="5" fill="#000"/>
<rect x="738.75" y="95" width="1.5" height="3" fill="#f00808" shape-rendering="auto"/>
<rect x="743" y="80" width="1" height="20" fill="#000"/>
<rect x="742" y="84" width="3" height="14" fill="#000"/>
<rect x="742.75" y="85" width="1.5" height="12" fill="#28b828" shape-rendering="auto"/>
<rect x="747" y="71" width="1" height="16" fill="#000"/>
<rect x="746" y="75" width="3" height="9" fill="#000"/>
<rect x="746.75" y="76" width="1.5" height="7" fill="#28b828" shape-rendering="auto"/>
<rect x="751" y="68" width="1" height="17" fill="#000"/>
<rect x="750" y="76" width="3" height="1" fill="#000"/>
<rect x="755" y="74" width="1" height="8" fill="#000"/>
<rect x="754" y="76" width="3" height="1" fill="#000"/>
<rect x="759" y="71" width="1" height="7" fill="#000"/>
<rect x="758" y="73" width="3" height="5" fill="#000"/>
<rect x="758.75" y="74" width="1.5" height="3" fill="#28b828" shape-rendering="auto"/>
<rect x="763" y="55" width="1" height="20" fill="#000"/>
<rect x="762" y="56" width="3" height="18" fill="#000"/>
<rect x="762.75" y="57" width="1.5" height="16" fill="#28b828" shape-rendering="auto"/>
<rect x="767" y="54" width="1" height="7" fill="#000"/>
<rect x="766" y="55" width="3" height="3" fill="#000"/>
<rect x="766.75" y="56" width="1.5" height="1" fill="#28b828" shape-rendering="auto"/>
<rect x="771" y="54" width="1" height="13" fill="#000"/>
<rect x="770" y="55" width="3" height="4" fill="#000"/>
<rect x="770.75" y="56" width="1.5" height="2" fill="#f00808" shape-rendering="auto"/>
<rect x="775" y="25" width="1" height="15" fill="#000"/>
<rect x="774" y="26" width="3" height="10" fill="#000"/>
<rect x="774.75" y="27" width="1.5" height="8" fill="#28b828" shape-rendering="auto"/>
<rect x="779" y="24" width="1" height="19" fill="#000"/>
<rect x="778" y="27" width="3" height="15" fill="#000"/>
<rect x="778.75" y="28" width="1.5" height="13" fill="#f00808" shape-rendering="auto"/>
<rect x="783" y="31" width="1" height="11" fill="#000"/>
<rect x="782" y="37" width="3" height="4" fill="#000"/>
<rect x="782.75" y="38" width="1.5" height="2" fill="#28b828" shape-rendering="auto"/>
<rect x="787" y="22" width="1" height="15" fill="#000"/>
<rect x="786" y="28" width="3" height="9" fill="#000"/>
<rect x="786.75" y="29" width="1.5" height="7" fill="#28b828" shape-rendering="auto"/>
<rect x="791" y="27" width="1" height="25" fill="#000"/>
<rect x="790" y="31" width="3" height="14" fill="#000"/>
<rect x="790.75" y="32" width="1.5" height="12" fill="#f00808" shape-rendering="auto"/>
<rect x="795" y="40" width="1" height="7" fill="#000"/>
<rect x="794" y="42" width="3" height="4" fill="#000"/>
<rect x="794.75" y="43" width="1.5" height="2" fill="#28b828" shape-rendering="auto"/>
<rect x="799" y="36" width="1" height="8" fill="#000"/>
<rect x="798" y="38" width="3" height="6" fill="#000"/>
<rect x="798.75" y="39" width="1.5" height="4" fill="#28b828" shape-rendering="auto"/>
<rect x="803" y="31" width="1" height="12" fill="#000"/>
<rect x="802" y="31" width="3" height="7" fill="#000"/>
<rect x="802.75" y="32" width="1.5" height="5" fill="#28b828" shape-rendering="auto"/>
<rect x="807" y="30" width="1" height="8" fill="#000"/>
<rect x="806" y="31" width="3" height="3" fill="#000"/>
<rect x="806.75" y="32" width="1.5" height="1" fill="#f00808" shape-rendering="auto"/>
<rect x="811" y="28" width="1" height="19" fill="#000"/>
<rect x="810" y="34" width="3" height="1" fill="#000"/>
<rect x="815" y="30" width="1" height="21" fill="#000"/>
<rect x="814" y="31" width="3" height="17" fill="#000"/>
<rect x="814.75" y="32" width="1.5" height="15" fill="#f00808" shape-rendering="auto"/>
<rect x="819" y="46" width="1" height="23" fill="#000"/>
<rect x="818" y="48" width="3" height="2" fill="#000"/>
<rect x="823" y="46" width="1" height="13" fill="#000"/>
<rect x="822" y="49" width="3" height="1" fill="#000"/>
<rect x="827" y="40" width="1" height="15" fill="#000"/>
<rect x="826" y="48" width="3" height="4" fill="#000"/>
<rect x="826.75" y="49" width="1.5" height="2" fill="#f00808" shape-rendering="auto"/>
<rect x="831" y="51" width="1" height="12" fill="#000"/>
<rect x="830" y="52" width="3" height="9" fill="#000"/>
<rect x="830.75" y="53" width="1.5" height="7" fill="#f00808" shape-rendering="auto"/>
<rect x="835" y="58" width="1" height="19" fill="#000"/>
<rect x="834" y="61" width="3" height="11" fill="#000"/>
<rect x="834.75" y="62" width="1.5" height="9" fill="#f00808" shape-rendering="auto"/>
<rect x="839" y="60" width="1" height="15" fill="#000"/>
<rect x="838" y="63" width="3" height="9" fill="#000"/>
<rect x="838.75" y="64" width="1.5" height="7" fill="#28b828" shape-rendering="auto"/>
<rect x="843" y="47" width="1" height="21" fill="#000"/>
<rect x="842" y="54" width="3" height="10" fill="#000"/>
<rect x="842.75" y="55" width="1.5" height="8" fill="#28b828" shape-rendering="auto"/>
<rect x="847" y="52" width="1" height="16" fill="#000"/>
<rect x="846" y="54" width="3" height="1" fill="#000"/>
<rect x="851" y="45" width="1" height="15" fill="#000"/>
<rect x="850" y="45" width="3" height="12" fill="#000"/>
<rect x="850.75" y="46" width="1.5" height="10" fill="#28b828" shape-rendering="auto"/>
</g>
<polyline points="2.3,262.9 11.7,266.2 20.0,263.8 23.5,251.6 30.5,230.5 37.6,214.1 38.7,210.3 46.9,198.6 58.7,181.0 68.1,175.1 82.2,162.2 91.5,161.5 98.6,159.9 108.0,155.2 117.4,152.8 126.8,138.7 136.2,130.5 143.2,131.7 150.2,135.2 156.1,132.9 162.0,123.5 167.8,120.0 178.4,120.0 187.8,120.7 190.0,120.7 206.4,117.6 222.9,114.6 232.3,116.0 239.3,125.8 246.3,142.3 253.4,151.6 260.4,161.0 267.5,175.1 272.2,179.8 279.2,182.6 286.2,182.2 290.9,175.1 295.6,154.0 300.3,135.2 303.5,126.5 308.4,114.3 313.3,105.7 319.4,97.1 325.5,90.4 329.2,86.7 334.7,85.1 339.0,86.7 343.9,91.6 346.3,92.2 351.2,96.5 356.1,102.6 363.4,109.1 372.0,109.1 378.1,106.3 385.5,103.3 391.6,102.0 396.5,103.9 402.6,109.4 410.0,121.0 415.2,128.8 426.9,145.7 438.7,162.6 446.9,166.6 455.1,164.5 464.5,162.1 473.9,160.7 480.7,152.7 484.5,149.0 488.0,147.1 491.3,141.7 494.3,139.1 500.0,139.3 512.2,138.2 520.8,136.3 526.9,132.1 534.2,129.6 540.3,130.2 549.0,128.3 553.9,125.3 560.0,122.2 566.2,120.4 570.0,120.6 593.5,120.6 614.6,120.6 624.0,123.4 633.4,128.1 640.4,131.6 646.3,135.1 651.0,130.4 656.9,126.9 663.9,123.4 670.9,116.3 675.6,106.9 680.3,98.7 687.4,92.9 696.8,88.2 707.3,83.5 713.2,85.8 720.2,87.0 729.6,82.3 739.0,80.7 746.1,77.6 755.4,71.7 763.4,61.3 770.4,51.9 775.1,42.6 781.0,33.2 789.2,25.0 798.6,19.6 805.6,13.2 812.7,10.9 819.7,15.6 826.8,19.1 836.2,21.4 850.2,22.6" fill="none" stroke="#0000ff" stroke-width="1" stroke-linejoin="round" stroke-linecap="butt" shape-rendering="crispEdges"/>
<polyline points="70.4,315.0 72.8,310.3 82.2,293.9 93.9,261.0 99.8,246.9 112.7,238.7 130.3,229.3 140.8,216.4 146.5,201.8 149.0,198.8 155.0,194.5 161.2,193.9 166.0,191.4 173.4,189.0 180.8,187.1 188.1,182.9 191.8,185.3 196.7,184.7 197.9,189.6 201.6,193.3 206.5,195.7 210.2,201.8 215.0,210.4 220.0,219.0 222.9,224.0 232.3,235.7 239.3,241.6 244.0,246.3 247.5,243.9 253.4,247.0 260.4,249.3 265.1,245.1 272.2,240.4 283.9,240.0 290.9,245.1 295.6,255.7 302.7,265.1 308.5,268.6 316.8,263.9 323.8,255.7 333.2,235.7 342.6,214.6 352.0,188.8 359.0,177.0 364.9,171.2 370.8,171.2 375.4,180.6 380.1,192.3 384.8,202.9 386.8,208.1 396.9,224.9 403.7,229.6 417.1,228.3 427.2,224.3 436.3,219.2 448.1,216.8 462.2,216.8 469.2,210.9 476.2,203.9 483.3,202.0 490.3,200.4 499.7,196.4 509.1,191.0 520.8,186.3 532.6,180.4 539.6,174.6 545.5,168.7 551.4,165.9 558.4,166.3 567.8,165.9 570.0,165.2 584.1,166.1 598.2,168.0 612.3,168.5 624.0,169.9 631.0,172.2 638.1,170.3 647.5,168.5 654.5,169.9 663.9,170.3 673.3,172.2 680.3,174.6 687.4,173.8 696.8,170.8 703.8,163.3 710.8,152.7 717.9,142.2 724.9,135.1 732.0,131.6 739.0,128.1 744.9,121.5 750.8,119.2 757.8,120.6 764.8,119.9 770.0,117.5 777.0,121.2 787.1,121.2 796.2,114.2 805.6,105.9 812.7,96.5 817.4,87.2 822.1,80.1 827.9,75.4 836.2,71.9 845.5,70.7 850.2,69.6" fill="none" stroke="#0000ff" stroke-width="1" stroke-linejoin="round" stroke-linecap="butt" shape-rendering="crispEdges"/>
<polyline points="2.3,293.9 21.1,292.7 30.5,286.9 42.3,275.1 61.0,255.2 75.1,238.7 89.2,218.3 90.4,215.0 98.6,204.5 104.9,200.0 116.0,195.1 124.4,186.5 131.8,180.4 140.4,173.0 149.1,166.9 157.5,160.8 166.1,155.3 173.4,153.5 185.7,152.2 190.0,151.6 199.4,154.5 210.0,160.1 217.2,166.2 225.9,171.6 234.6,179.6 241.9,189.4 251.5,199.3 261.4,207.0 267.5,210.1 276.2,212.4 287.2,212.0 292.1,209.6 302.9,197.9 315.4,183.8 329.9,166.7 342.6,151.6 354.3,143.4 361.4,141.1 370.8,141.1 377.8,144.6 380.0,147.6 391.7,160.5 403.5,172.2 415.2,181.6 426.9,187.5 438.7,190.3 450.4,191.0 459.8,189.8 469.2,185.1 478.6,179.2 488.0,172.2 497.4,167.5 509.1,164.5 520.8,160.5 532.6,155.8 544.3,149.9 553.7,145.2 563.1,143.3 567.8,143.1 570.0,141.7 581.7,142.2 593.5,142.2 605.2,142.2 616.9,143.3 626.3,146.4 635.7,149.7 645.1,151.1 654.5,150.4 663.9,146.4 673.3,141.0 682.7,135.6 692.1,131.6 701.5,125.7 710.8,119.2 720.2,114.0 729.6,108.8 739.0,104.1 748.4,99.9 757.8,95.2 770.4,87.2 782.2,76.8 793.9,68.6 801.6,63.2 811.5,55.9 818.8,51.2 826.1,48.7 833.3,46.8 840.8,45.8 851.4,45.8" fill="none" stroke="#32cd32" stroke-width="2" stroke-linejoin="round" stroke-linecap="butt" />
<polyline points="39.9,310.3 75.1,304.5 100.9,295.1 124.4,288.0 164.3,269.2 187.8,258.2 190.0,256.4 213.5,247.5 236.9,239.2 260.4,232.2 283.9,225.9 307.4,214.6 330.8,205.2 354.3,197.7 377.8,190.0 380.0,189.1 394.1,184.9 408.2,181.6 422.3,179.5 438.7,177.1 457.5,175.3 473.9,174.1 497.4,172.9 520.8,172.2 544.3,171.5 567.8,171.0 570.0,170.3 593.5,168.5 616.9,166.8 635.7,164.5 652.2,159.8 668.6,156.2 687.4,153.4 710.8,151.5 734.3,148.7 753.1,146.4 770.0,142.6 827.9,120.0 840.8,115.3 851.4,113.5" fill="none" stroke="#000" stroke-width="2.8" stroke-linejoin="round" stroke-linecap="butt" />
<polyline points="16.4,310.3 35.2,299.3 58.7,283.8 79.8,272.3 93.9,262.4 131.5,236.4 164.3,214.1 178.4,201.4 187.8,196.2 190.0,194.6 201.7,187.8 214.9,181.5 221.0,179.6 236.9,180.0 256.4,180.5 283.9,180.8 294.5,180.8 302.9,178.4 315.4,175.4 329.9,174.1 342.6,172.8 354.3,173.2 366.1,174.6 377.8,176.3 380.0,177.6 391.7,180.0 403.5,180.4 415.2,180.0 426.9,178.1 438.7,176.2 450.4,173.4 462.2,170.6 473.9,168.2 483.3,165.9 490.3,165.2 497.4,165.9 509.1,167.5 515.9,168.1 536.6,169.4 558.9,168.8 568.5,166.9 570.0,165.2 581.7,162.1 593.5,159.8 605.2,157.4 616.9,155.1 628.7,153.4 640.4,152.0 652.2,150.4 659.2,148.0 668.6,145.0 682.7,142.2 696.8,139.3 710.8,135.6 724.9,132.3 739.0,128.5 753.1,125.3 764.8,121.5 768.1,120.0 782.2,111.8 793.9,104.8 805.6,97.7 817.4,91.9 829.1,84.8 840.8,80.1 851.4,76.6" fill="none" stroke="#ff0000" stroke-width="2" stroke-linejoin="round" stroke-linecap="butt" />
</g>
<g shape-rendering="crispEdges">
<rect x="2" y="18" width="1070" height="2" fill="#000"/>
<rect x="2" y="79" width="1069" height="2" fill="#000"/>
<rect x="2" y="77" width="6" height="6" fill="#000"/><rect x="4" y="79" width="2" height="2" fill="#fff"/>
<rect x="1066" y="77" width="6" height="6" fill="#000"/><rect x="1068" y="79" width="2" height="2" fill="#fff"/>
</g>
<g clip-path="url(#cs)">
<polyline points="3.4,331.6 8.1,324.9 13.5,321.5 18.9,320.1 27.0,319.5 35.1,321.5 40.5,327.6 45.9,330.9 51.4,330.9 56.8,333.6 59.5,336.4 63.5,337.0 67.6,342.4 73.0,338.4 76.4,331.6 78.4,326.2 83.8,323.5 89.2,326.2 93.2,328.2 97.3,326.9 102.7,325.9 106.8,328.9 110.8,341.1 114.9,354.6 117.6,343.8 118.9,338.4 124.3,330.3 128.4,324.9 135.1,323.5 139.2,326.2 140.0,328.9 144.1,337.0 147.4,354.6 151.5,354.6 154.9,335.7 158.9,324.9 163.0,322.8 167.0,324.9 171.1,337.0 175.1,349.2 179.2,361.4 183.2,365.4 186.6,363.4 194.1,362.7 198.8,368.8 203.5,366.8 210.3,357.3 215.7,357.3 223.8,358.6 229.2,353.9 235.3,349.2 240.0,353.2 244.1,354.6 250.8,350.5 254.9,341.8 258.9,345.8 264.3,343.8 269.7,333.6 275.1,324.2 279.2,323.5 280.0,323.5 284.1,319.5 287.4,319.5 292.2,324.9 297.6,325.9 305.7,326.5 311.1,333.0 315.1,342.4 319.2,355.9 323.2,355.9 327.3,343.8 331.4,337.7 334.7,335.7 338.1,341.8 342.8,355.3 347.6,360.7 351.6,360.7 355.7,354.6 361.1,357.3 366.5,362.7 371.9,364.7 377.3,367.4 382.7,368.1 388.1,369.5 392.2,370.8 396.2,368.1 400.3,355.9 403.6,339.7 407.0,327.6 411.8,320.1 419.2,320.1 420.0,322.2 424.1,326.2 427.4,337.0 431.5,346.5 434.9,340.4 438.9,333.6 443.6,330.3 447.0,334.3 451.1,333.0 455.1,335.7 459.2,343.8 463.2,347.8 467.3,343.8 471.4,336.4 475.4,331.6 479.5,324.9 483.5,320.8 487.6,323.5 493.0,326.9 497.0,333.0 501.1,347.8 503.8,360.7 507.2,363.4 510.5,354.6 514.6,345.8 519.3,337.0 523.4,334.3 527.4,330.3 530.8,335.0 534.9,333.6 538.9,336.4 543.0,333.0 547.0,335.0 551.1,341.8 555.1,341.8 559.2,344.5 560.0,344.5 565.4,346.5 570.8,351.2 575.5,360.0 579.6,365.4 583.6,364.1 587.7,360.0 591.8,353.2 599.2,349.9 603.2,347.8 607.3,332.3 611.4,324.9 615.4,324.9 619.5,335.7 623.5,342.4 627.6,355.9 633.0,355.9 637.0,345.1 641.1,335.7 643.8,328.9 647.8,327.6 651.9,320.1 657.3,320.1 662.7,326.2 667.4,337.7 671.5,337.7 675.5,328.9 679.6,323.5 683.6,325.5 687.7,331.6 691.8,339.7 696.5,349.9 699.2,351.2 700.0,349.2 703.4,334.3 706.8,326.2 710.8,326.9 714.9,333.0 718.9,338.4 723.0,331.6 727.0,326.2 731.1,322.2 735.1,328.9 739.2,339.7 743.2,344.5 747.3,338.4 751.4,328.2 759.5,326.9 763.5,322.8 766.9,319.5 775.7,319.5 779.7,325.5 783.8,328.2 787.8,333.0 791.9,339.1 795.9,346.5 799.3,351.2 802.7,343.8 806.8,336.4 810.8,330.9 814.9,338.4 819.6,346.5 827.0,346.5 831.1,350.5 835.1,358.0 839.2,359.3 843.2,351.9 846.6,342.4 850.0,332.3 851.5,328.9" fill="none" stroke="#7cfc00" stroke-width="2" stroke-linejoin="round" stroke-linecap="butt" />
<polyline points="3.4,341.1 8.1,330.3 13.5,323.5 18.9,320.8 27.0,319.7 35.1,320.8 40.5,324.9 47.3,328.9 54.1,330.9 60.8,334.3 67.6,339.7 75.0,339.7 78.4,334.3 83.8,326.2 89.2,324.2 94.6,326.9 101.4,326.9 106.8,326.9 110.8,331.6 114.9,342.4 118.9,345.1 123.0,341.8 127.0,331.6 131.1,328.2 135.1,325.1 139.2,325.1 140.0,326.2 144.1,331.6 150.8,347.8 155.5,347.2 160.3,334.3 164.3,326.2 167.7,323.5 171.1,327.6 175.1,335.7 180.5,351.9 185.9,362.7 188.6,364.1 196.8,364.1 200.8,365.7 206.9,365.7 215.7,357.6 226.5,357.6 231.9,355.3 237.3,351.6 242.7,352.2 250.8,352.6 256.2,346.5 261.6,344.9 267.0,343.1 273.8,331.6 279.2,325.9 280.0,324.9 284.1,322.2 289.5,320.8 294.9,322.2 298.9,324.2 304.3,325.1 311.1,327.6 315.8,335.7 319.9,345.1 323.9,351.9 328.0,351.9 332.7,344.5 336.8,338.6 340.1,339.1 343.5,345.1 347.6,353.2 351.6,358.6 355.7,358.0 361.1,356.6 365.1,357.3 370.5,362.0 377.3,365.4 384.1,367.4 392.2,369.5 396.2,369.5 400.3,365.4 403.6,357.3 407.0,345.1 411.1,330.3 415.1,323.5 419.2,320.8 420.0,320.8 424.7,324.2 429.5,334.3 434.9,341.1 438.9,341.1 443.6,334.3 448.4,332.3 452.4,333.0 457.8,336.4 463.2,343.1 467.3,345.1 471.4,343.8 475.4,339.1 479.5,330.9 484.2,324.9 489.6,323.2 494.3,325.5 499.7,333.0 503.8,343.8 507.8,354.6 511.9,360.0 515.9,353.2 521.4,342.4 527.4,333.2 534.9,333.2 538.9,335.0 547.0,335.0 552.4,338.4 557.8,342.4 560.0,343.1 564.1,343.1 570.8,347.2 576.2,354.6 581.6,362.0 588.4,362.7 593.8,355.9 599.2,350.5 603.2,348.5 607.3,341.1 611.4,333.6 615.4,327.6 619.5,328.2 623.5,335.0 627.6,345.8 631.6,351.2 635.7,354.6 639.7,349.2 643.8,339.1 647.8,332.3 651.9,325.5 655.9,322.2 660.0,320.8 664.1,324.2 668.1,330.3 672.2,335.0 676.2,334.3 680.3,329.6 684.3,326.2 687.7,326.2 691.8,332.3 695.8,340.4 699.2,347.2 700.0,347.8 703.4,345.8 707.4,337.7 711.5,328.9 716.2,328.9 720.3,333.6 724.3,333.6 728.4,330.3 732.4,326.2 736.5,326.5 740.5,333.6 744.6,339.1 748.0,341.1 751.4,336.4 755.4,331.6 759.5,326.9 763.5,326.9 767.6,322.8 771.6,320.1 777.0,320.1 781.1,322.8 786.5,327.6 791.9,333.6 795.9,339.7 800.0,345.8 804.1,345.8 808.1,342.4 811.5,335.7 816.2,335.7 820.3,339.7 824.3,344.5 829.7,347.2 835.1,352.6 839.2,357.0 843.9,357.0 847.3,350.5 850.0,342.4 851.5,340.8" fill="none" stroke="#ff0000" stroke-width="2" stroke-linejoin="round" stroke-linecap="butt" />
</g>
<g clip-path="url(#cc)">
<g shape-rendering="crispEdges">
<rect x="2" y="432" width="3" height="5" fill="#000"/>
<rect x="6" y="432" width="3" height="5" fill="#000"/>
<rect x="10" y="433" width="3" height="4" fill="#000"/>
<rect x="14" y="427" width="3" height="10" fill="#000"/>
<rect x="18" y="424" width="3" height="13" fill="#000"/>
<rect x="22" y="414" width="3" height="23" fill="#000"/>
<rect x="26" y="407" width="3" height="30" fill="#000"/>
<rect x="30" y="400" width="3" height="37" fill="#000"/>
<rect x="34" y="396" width="3" height="41" fill="#000"/>
<rect x="38" y="395" width="3" height="42" fill="#000"/>
<rect x="42" y="393" width="3" height="44" fill="#000"/>
<rect x="46" y="389" width="3" height="48" fill="#000"/>
<rect x="50" y="388" width="3" height="49" fill="#000"/>
<rect x="54" y="388" width="3" height="49" fill="#000"/>
<rect x="58" y="389" width="3" height="48" fill="#000"/>
<rect x="62" y="390" width="3" height="47" fill="#000"/>
<rect x="66" y="391" width="3" height="46" fill="#000"/>
<rect x="70" y="390" width="3" height="47" fill="#000"/>
<rect x="74" y="390" width="3" height="47" fill="#000"/>
<rect x="78" y="387" width="3" height="50" fill="#000"/>
<rect x="82" y="385" width="3" height="52" fill="#000"/>
<rect x="86" y="383" width="3" height="54" fill="#000"/>
<rect x="90" y="382" width="3" height="55" fill="#000"/>
<rect x="94" y="381" width="3" height="56" fill="#000"/>
<rect x="98" y="381" width="3" height="56" fill="#000"/>
<rect x="102" y="383" width="3" height="54" fill="#000"/>
<rect x="106" y="384" width="3" height="53" fill="#000"/>
<rect x="110" y="388" width="3" height="49" fill="#000"/>
<rect x="114" y="392" width="3" height="45" fill="#000"/>
<rect x="118" y="390" width="3" height="47" fill="#000"/>
<rect x="122" y="388" width="3" height="49" fill="#000"/>
<rect x="126" y="386" width="3" height="51" fill="#000"/>
<rect x="130" y="386" width="3" height="51" fill="#000"/>
<rect x="134" y="387" width="3" height="50" fill="#000"/>
<rect x="138" y="389" width="3" height="48" fill="#000"/>
<rect x="142" y="392" width="3" height="45" fill="#000"/>
<rect x="146" y="394" width="3" height="43" fill="#000"/>
<rect x="150" y="396" width="3" height="41" fill="#000"/>
<rect x="154" y="395" width="3" height="42" fill="#000"/>
<rect x="158" y="393" width="3" height="44" fill="#000"/>
<rect x="162" y="393" width="3" height="44" fill="#000"/>
<rect x="166" y="394" width="3" height="43" fill="#000"/>
<rect x="170" y="399" width="3" height="38" fill="#000"/>
<rect x="174" y="404" width="3" height="33" fill="#000"/>
<rect x="178" y="408" width="3" height="29" fill="#000"/>
<rect x="182" y="412" width="3" height="25" fill="#000"/>
<rect x="186" y="414" width="3" height="23" fill="#000"/>
<rect x="190" y="421" width="3" height="16" fill="#000"/>
<rect x="194" y="428" width="3" height="9" fill="#000"/>
<rect x="198" y="433" width="3" height="4" fill="#000"/>
<rect x="202" y="436" width="3" height="1" fill="#000"/>
<rect x="206" y="437" width="3" height="2" fill="#000"/>
<rect x="210" y="437" width="3" height="7" fill="#000"/>
<rect x="214" y="437" width="3" height="12" fill="#000"/>
<rect x="218" y="437" width="3" height="17" fill="#000"/>
<rect x="222" y="437" width="3" height="20" fill="#000"/>
<rect x="226" y="437" width="3" height="22" fill="#000"/>
<rect x="230" y="437" width="3" height="24" fill="#000"/>
<rect x="234" y="437" width="3" height="25" fill="#000"/>
<rect x="238" y="437" width="3" height="27" fill="#000"/>
<rect x="242" y="437" width="3" height="29" fill="#000"/>
<rect x="246" y="437" width="3" height="30" fill="#000"/>
<rect x="250" y="437" width="3" height="30" fill="#000"/>
<rect x="254" y="437" width="3" height="29" fill="#000"/>
<rect x="258" y="437" width="3" height="28" fill="#000"/>
<rect x="262" y="437" width="3" height="27" fill="#000"/>
<rect x="266" y="437" width="3" height="26" fill="#000"/>
<rect x="270" y="437" width="3" height="23" fill="#000"/>
<rect x="274" y="437" width="3" height="18" fill="#000"/>
<rect x="278" y="437" width="3" height="15" fill="#000"/>
<rect x="282" y="437" width="3" height="9" fill="#000"/>
<rect x="286" y="437" width="3" height="3" fill="#000"/>
<rect x="290" y="434" width="3" height="3" fill="#000"/>
<rect x="294" y="422" width="3" height="15" fill="#000"/>
<rect x="298" y="414" width="3" height="23" fill="#000"/>
<rect x="302" y="407" width="3" height="30" fill="#000"/>
<rect x="306" y="402" width="3" height="35" fill="#000"/>
<rect x="310" y="400" width="3" height="37" fill="#000"/>
<rect x="314" y="398" width="3" height="39" fill="#000"/>
<rect x="318" y="397" width="3" height="40" fill="#000"/>
<rect x="322" y="397" width="3" height="40" fill="#000"/>
<rect x="326" y="396" width="3" height="41" fill="#000"/>
<rect x="330" y="397" width="3" height="40" fill="#000"/>
<rect x="334" y="399" width="3" height="38" fill="#000"/>
<rect x="338" y="401" width="3" height="36" fill="#000"/>
<rect x="342" y="405" width="3" height="32" fill="#000"/>
<rect x="346" y="408" width="3" height="29" fill="#000"/>
<rect x="350" y="412" width="3" height="25" fill="#000"/>
<rect x="354" y="414" width="3" height="23" fill="#000"/>
<rect x="358" y="418" width="3" height="19" fill="#000"/>
<rect x="362" y="423" width="3" height="14" fill="#000"/>
<rect x="366" y="428" width="3" height="9" fill="#000"/>
<rect x="370" y="433" width="3" height="4" fill="#000"/>
<rect x="374" y="437" width="3" height="1" fill="#000"/>
<rect x="378" y="437" width="3" height="7" fill="#000"/>
<rect x="382" y="437" width="3" height="12" fill="#000"/>
<rect x="386" y="437" width="3" height="19" fill="#000"/>
<rect x="390" y="437" width="3" height="24" fill="#000"/>
<rect x="394" y="437" width="3" height="27" fill="#000"/>
<rect x="398" y="437" width="3" height="28" fill="#000"/>
<rect x="402" y="437" width="3" height="27" fill="#000"/>
<rect x="406" y="437" width="3" height="26" fill="#000"/>
<rect x="410" y="437" width="3" height="23" fill="#000"/>
<rect x="414" y="437" width="3" height="20" fill="#000"/>
<rect x="418" y="437" width="3" height="18" fill="#000"/>
<rect x="422" y="437" width="3" height="16" fill="#000"/>
<rect x="426" y="437" width="3" height="15" fill="#000"/>
<rect x="430" y="437" width="3" height="14" fill="#000"/>
<rect x="434" y="437" width="3" height="10" fill="#000"/>
<rect x="438" y="437" width="3" height="8" fill="#000"/>
<rect x="442" y="437" width="3" height="6" fill="#000"/>
<rect x="446" y="437" width="3" height="5" fill="#000"/>
<rect x="450" y="437" width="3" height="3" fill="#000"/>
<rect x="454" y="437" width="3" height="2" fill="#000"/>
<rect x="458" y="437" width="3" height="3" fill="#000"/>
<rect x="462" y="437" width="3" height="1" fill="#000"/>
<rect x="466" y="435" width="3" height="2" fill="#000"/>
<rect x="470" y="434" width="3" height="3" fill="#000"/>
<rect x="474" y="432" width="3" height="5" fill="#000"/>
<rect x="478" y="428" width="3" height="9" fill="#000"/>
<rect x="482" y="424" width="3" height="13" fill="#000"/>
<rect x="486" y="422" width="3" height="15" fill="#000"/>
<rect x="490" y="419" width="3" height="18" fill="#000"/>
<rect x="494" y="419" width="3" height="18" fill="#000"/>
<rect x="498" y="421" width="3" height="16" fill="#000"/>
<rect x="502" y="422" width="3" height="15" fill="#000"/>
<rect x="506" y="423" width="3" height="14" fill="#000"/>
<rect x="510" y="423" width="3" height="14" fill="#000"/>
<rect x="514" y="423" width="3" height="14" fill="#000"/>
<rect x="518" y="424" width="3" height="13" fill="#000"/>
<rect x="522" y="424" width="3" height="13" fill="#000"/>
<rect x="526" y="423" width="3" height="14" fill="#000"/>
<rect x="530" y="422" width="3" height="15" fill="#000"/>
<rect x="534" y="420" width="3" height="17" fill="#000"/>
<rect x="538" y="419" width="3" height="18" fill="#000"/>
<rect x="542" y="417" width="3" height="20" fill="#000"/>
<rect x="546" y="417" width="3" height="20" fill="#000"/>
<rect x="550" y="418" width="3" height="19" fill="#000"/>
<rect x="554" y="416" width="3" height="21" fill="#000"/>
<rect x="558" y="417" width="3" height="20" fill="#000"/>
<rect x="562" y="417" width="3" height="20" fill="#000"/>
<rect x="566" y="418" width="3" height="19" fill="#000"/>
<rect x="570" y="418" width="3" height="19" fill="#000"/>
<rect x="574" y="423" width="3" height="14" fill="#000"/>
<rect x="578" y="428" width="3" height="9" fill="#000"/>
<rect x="582" y="431" width="3" height="6" fill="#000"/>
<rect x="586" y="433" width="3" height="4" fill="#000"/>
<rect x="590" y="434" width="3" height="3" fill="#000"/>
<rect x="594" y="436" width="3" height="1" fill="#000"/>
<rect x="598" y="437" width="3" height="2" fill="#000"/>
<rect x="602" y="437" width="3" height="2" fill="#000"/>
<rect x="606" y="437" width="3" height="1" fill="#000"/>
<rect x="622" y="437" width="3" height="1" fill="#000"/>
<rect x="626" y="437" width="3" height="3" fill="#000"/>
<rect x="630" y="437" width="3" height="6" fill="#000"/>
<rect x="634" y="437" width="3" height="4" fill="#000"/>
<rect x="638" y="437" width="3" height="3" fill="#000"/>
<rect x="646" y="435" width="3" height="2" fill="#000"/>
<rect x="650" y="431" width="3" height="6" fill="#000"/>
<rect x="654" y="428" width="3" height="9" fill="#000"/>
<rect x="658" y="426" width="3" height="11" fill="#000"/>
<rect x="662" y="426" width="3" height="11" fill="#000"/>
<rect x="666" y="426" width="3" height="11" fill="#000"/>
<rect x="670" y="423" width="3" height="14" fill="#000"/>
<rect x="674" y="419" width="3" height="18" fill="#000"/>
<rect x="678" y="415" width="3" height="22" fill="#000"/>
<rect x="682" y="413" width="3" height="24" fill="#000"/>
<rect x="686" y="413" width="3" height="24" fill="#000"/>
<rect x="690" y="415" width="3" height="22" fill="#000"/>
<rect x="694" y="415" width="3" height="22" fill="#000"/>
<rect x="698" y="414" width="3" height="23" fill="#000"/>
<rect x="702" y="413" width="3" height="24" fill="#000"/>
<rect x="706" y="412" width="3" height="25" fill="#000"/>
<rect x="710" y="413" width="3" height="24" fill="#000"/>
<rect x="714" y="413" width="3" height="24" fill="#000"/>
<rect x="718" y="413" width="3" height="24" fill="#000"/>
<rect x="722" y="412" width="3" height="25" fill="#000"/>
<rect x="726" y="412" width="3" height="25" fill="#000"/>
<rect x="730" y="411" width="3" height="26" fill="#000"/>
<rect x="734" y="412" width="3" height="25" fill="#000"/>
<rect x="738" y="412" width="3" height="25" fill="#000"/>
<rect x="742" y="412" width="3" height="25" fill="#000"/>
<rect x="746" y="411" width="3" height="26" fill="#000"/>
<rect x="750" y="410" width="3" height="27" fill="#000"/>
<rect x="754" y="410" width="3" height="27" fill="#000"/>
<rect x="758" y="409" width="3" height="28" fill="#000"/>
<rect x="762" y="406" width="3" height="31" fill="#000"/>
<rect x="766" y="404" width="3" height="33" fill="#000"/>
<rect x="770" y="403" width="3" height="34" fill="#000"/>
<rect x="774" y="398" width="3" height="39" fill="#000"/>
<rect x="778" y="396" width="3" height="41" fill="#000"/>
<rect x="782" y="395" width="3" height="42" fill="#000"/>
<rect x="786" y="393" width="3" height="44" fill="#000"/>
<rect x="790" y="395" width="3" height="42" fill="#000"/>
<rect x="794" y="396" width="3" height="41" fill="#000"/>
<rect x="798" y="397" width="3" height="40" fill="#000"/>
<rect x="802" y="397" width="3" height="40" fill="#000"/>
<rect x="806" y="396" width="3" height="41" fill="#000"/>
<rect x="810" y="399" width="3" height="38" fill="#000"/>
<rect x="814" y="402" width="3" height="35" fill="#000"/>
<rect x="818" y="406" width="3" height="31" fill="#000"/>
<rect x="822" y="409" width="3" height="28" fill="#000"/>
<rect x="826" y="412" width="3" height="25" fill="#000"/>
<rect x="830" y="417" width="3" height="20" fill="#000"/>
<rect x="834" y="422" width="3" height="15" fill="#000"/>
<rect x="838" y="425" width="3" height="12" fill="#000"/>
<rect x="842" y="426" width="3" height="11" fill="#000"/>
<rect x="846" y="427" width="3" height="10" fill="#000"/>
<rect x="850" y="426" width="3" height="11" fill="#000"/>
</g>
<polyline points="2.7,431.0 10.8,431.9 18.0,431.9 25.2,428.3 32.4,421.0 39.6,413.8 46.8,405.7 54.1,398.5 61.3,394.0 68.5,391.3 75.7,390.1 82.9,387.7 90.1,386.5 97.3,384.6 104.5,383.2 111.7,383.6 122.5,385.0 133.3,386.5 144.1,388.6 155.0,390.4 165.8,392.2 176.6,396.7 190.0,402.2 199.0,411.2 208.0,422.0 217.0,432.8 226.0,441.9 235.0,450.0 244.1,457.2 253.1,462.6 262.1,465.3 269.3,465.3 276.5,463.5 283.7,459.9 290.9,453.6 298.1,443.7 305.3,432.8 312.5,422.0 319.7,413.0 326.9,404.9 334.1,399.5 339.5,398.6 346.8,399.5 354.0,402.2 361.2,406.7 370.2,416.6 380.0,426.0 387.2,433.2 394.4,441.9 401.6,450.0 408.8,457.2 414.2,459.5 426.8,459.5 434.1,455.4 444.9,449.1 455.7,444.0 466.5,439.7 477.3,436.8 488.1,432.5 498.9,426.5 509.7,422.4 524.1,422.0 542.2,421.7 553.0,420.2 560.2,418.8 567.4,418.4 570.0,418.1 577.2,418.8 588.0,422.9 598.8,429.2 609.6,434.3 620.5,436.8 631.3,437.9 642.1,437.9 654.7,437.9 663.7,434.6 674.5,429.2 685.3,422.0 696.1,418.1 706.9,413.9 725.0,413.9 743.0,413.0 753.8,411.6 770.0,409.4 779.3,405.7 786.5,402.7 793.7,399.4 800.9,398.0 809.9,395.8 818.9,398.0 829.7,403.4 840.5,411.1 851.4,419.2" fill="none" stroke="#ff0000" stroke-width="2" stroke-linejoin="round" stroke-linecap="butt" />
</g>
<g shape-rendering="crispEdges">
<rect x="2" y="2" width="1071" height="1" fill="#000"/>
<rect x="2" y="311" width="1071" height="1" fill="#000"/>
<rect x="2" y="2" width="1" height="310" fill="#000"/>
<rect x="1072" y="2" width="1" height="310" fill="#000"/>
<rect x="2" y="313" width="1071" height="1" fill="#000"/>
<rect x="2" y="373" width="1071" height="1" fill="#000"/>
<rect x="2" y="313" width="1" height="61" fill="#000"/>
<rect x="1072" y="313" width="1" height="61" fill="#000"/>
<rect x="2" y="376" width="1071" height="1" fill="#000"/>
<rect x="2" y="473" width="1071" height="1" fill="#000"/>
<rect x="2" y="376" width="1" height="98" fill="#000"/>
<rect x="1072" y="376" width="1" height="98" fill="#000"/>
<rect x="1073" y="28" width="2" height="1" fill="#000"/>
<rect x="1073" y="63" width="2" height="1" fill="#000"/>
<rect x="1073" y="98" width="2" height="1" fill="#000"/>
<rect x="1073" y="133" width="2" height="1" fill="#000"/>
<rect x="1073" y="167" width="2" height="1" fill="#000"/>
<rect x="1073" y="202" width="2" height="1" fill="#000"/>
<rect x="1073" y="237" width="2" height="1" fill="#000"/>
<rect x="1073" y="272" width="2" height="1" fill="#000"/>
<rect x="1073" y="307" width="2" height="1" fill="#000"/>
<rect x="1073" y="315" width="1" height="1" fill="#000"/>
<rect x="1073" y="372" width="1" height="1" fill="#000"/>
<rect x="1072" y="326" width="1" height="1" fill="#d8d8c8"/>
<rect x="1072" y="361" width="1" height="1" fill="#d8d8c8"/>
<rect x="1073" y="377" width="1" height="1" fill="#000"/>
<rect x="1073" y="472" width="1" height="1" fill="#000"/>
<rect x="1073" y="437" width="2" height="1" fill="#000"/>
<rect x="3" y="474" width="1" height="3" fill="#000"/>
<rect x="67" y="474" width="1" height="3" fill="#000"/>
<rect x="131" y="474" width="1" height="3" fill="#000"/>
<rect x="195" y="474" width="1" height="3" fill="#000"/>
<rect x="259" y="474" width="1" height="3" fill="#000"/>
<rect x="323" y="474" width="1" height="3" fill="#000"/>
<rect x="387" y="474" width="1" height="3" fill="#000"/>
<rect x="451" y="474" width="1" height="3" fill="#000"/>
<rect x="515" y="474" width="1" height="3" fill="#000"/>
<rect x="579" y="474" width="1" height="3" fill="#000"/>
<rect x="643" y="474" width="1" height="3" fill="#000"/>
<rect x="707" y="474" width="1" height="3" fill="#000"/>
<rect x="771" y="474" width="1" height="3" fill="#000"/>
<rect x="835" y="474" width="1" height="3" fill="#000"/>
<rect x="1074" y="13" width="36" height="11" fill="#000"/>
<rect x="1074" y="39" width="36" height="11" fill="#000"/>
<rect x="1074" y="74" width="36" height="11" fill="#000"/>
</g>
<text x="7.6" y="14" font-size="9.8" fill="#000" stroke="#000" stroke-width="0.18" textLength="54.7" lengthAdjust="spacingAndGlyphs" text-rendering="geometricPrecision" xml:space="preserve" >AUDUSD,H1</text>
<text x="69.8" y="14" font-size="9.8" fill="#000" stroke="#000" stroke-width="0.18" textLength="27.6" lengthAdjust="spacingAndGlyphs" text-rendering="geometricPrecision" xml:space="preserve" >1.0085</text>
<text x="100.8" y="14" font-size="9.8" fill="#000" stroke="#000" stroke-width="0.18" textLength="27.6" lengthAdjust="spacingAndGlyphs" text-rendering="geometricPrecision" xml:space="preserve" >1.0101</text>
<text x="131.7" y="14" font-size="9.8" fill="#000" stroke="#000" stroke-width="0.18" textLength="27.7" lengthAdjust="spacingAndGlyphs" text-rendering="geometricPrecision" xml:space="preserve" >1.0080</text>
<text x="162.7" y="14" font-size="9.8" fill="#000" stroke="#000" stroke-width="0.18" textLength="27.3" lengthAdjust="spacingAndGlyphs" text-rendering="geometricPrecision" xml:space="preserve" >1.0100</text>
<text x="7.8" y="24" font-size="9.8" fill="#000" stroke="#000" stroke-width="0.18" textLength="254.5" lengthAdjust="spacingAndGlyphs" text-rendering="geometricPrecision" xml:space="preserve" >RenkoLiveChart(5): Open Offline AUDUSD,M2 to view chart</text>
<text x="7.6" y="327" font-size="9.8" fill="#000" stroke="#000" stroke-width="0.18" textLength="48.9" lengthAdjust="spacingAndGlyphs" text-rendering="geometricPrecision" xml:space="preserve" >Stoch(5,3,3)</text>
<text x="60.2" y="327" font-size="9.8" fill="#000" stroke="#000" stroke-width="0.18" textLength="32.3" lengthAdjust="spacingAndGlyphs" text-rendering="geometricPrecision" xml:space="preserve" >75.5396</text>
<text x="96.2" y="327" font-size="9.8" fill="#000" stroke="#000" stroke-width="0.18" textLength="32.2" lengthAdjust="spacingAndGlyphs" text-rendering="geometricPrecision" xml:space="preserve" >55.3354</text>
<text x="7.6" y="389" font-size="9.8" fill="#000" stroke="#000" stroke-width="0.18" textLength="65.9" lengthAdjust="spacingAndGlyphs" text-rendering="geometricPrecision" xml:space="preserve" >MACD(12,26,9)</text>
<text x="76.7" y="389" font-size="9.8" fill="#000" stroke="#000" stroke-width="0.18" textLength="31.5" lengthAdjust="spacingAndGlyphs" text-rendering="geometricPrecision" xml:space="preserve" >0.00087</text>
<text x="112.6" y="389" font-size="9.8" fill="#000" stroke="#000" stroke-width="0.18" textLength="31.9" lengthAdjust="spacingAndGlyphs" text-rendering="geometricPrecision" xml:space="preserve" >0.00123</text>
<text x="5.5" y="469" font-size="10.2" fill="#000" stroke="#000" stroke-width="0.18" textLength="266" lengthAdjust="spacingAndGlyphs" text-rendering="geometricPrecision" xml:space="preserve" >IFX Trader, © 2001-2012, MetaQuotes Software Corp.</text>
<text x="2.6" y="486" font-size="9.8" fill="#000" stroke="#000" stroke-width="0.18" textLength="43.5" lengthAdjust="spacingAndGlyphs" text-rendering="geometricPrecision" xml:space="preserve" >5 Jun 2012</text>
<text x="66.6" y="486" font-size="9.8" fill="#000" stroke="#000" stroke-width="0.18" textLength="47" lengthAdjust="spacingAndGlyphs" text-rendering="geometricPrecision" xml:space="preserve" >6 Jun 15:00</text>
<text x="130.6" y="486" font-size="9.8" fill="#000" stroke="#000" stroke-width="0.18" textLength="47" lengthAdjust="spacingAndGlyphs" text-rendering="geometricPrecision" xml:space="preserve" >7 Jun 07:00</text>
<text x="194.6" y="486" font-size="9.8" fill="#000" stroke="#000" stroke-width="0.18" textLength="47" lengthAdjust="spacingAndGlyphs" text-rendering="geometricPrecision" xml:space="preserve" >7 Jun 23:00</text>
<text x="258.6" y="486" font-size="9.8" fill="#000" stroke="#000" stroke-width="0.18" textLength="47" lengthAdjust="spacingAndGlyphs" text-rendering="geometricPrecision" xml:space="preserve" >8 Jun 15:00</text>
<text x="322.6" y="486" font-size="9.8" fill="#000" stroke="#000" stroke-width="0.18" textLength="52" lengthAdjust="spacingAndGlyphs" text-rendering="geometricPrecision" xml:space="preserve" >11 Jun 07:00</text>
<text x="386.6" y="486" font-size="9.8" fill="#000" stroke="#000" stroke-width="0.18" textLength="52" lengthAdjust="spacingAndGlyphs" text-rendering="geometricPrecision" xml:space="preserve" >11 Jun 23:00</text>
<text x="450.6" y="486" font-size="9.8" fill="#000" stroke="#000" stroke-width="0.18" textLength="52" lengthAdjust="spacingAndGlyphs" text-rendering="geometricPrecision" xml:space="preserve" >12 Jun 15:00</text>
<text x="514.6" y="486" font-size="9.8" fill="#000" stroke="#000" stroke-width="0.18" textLength="52" lengthAdjust="spacingAndGlyphs" text-rendering="geometricPrecision" xml:space="preserve" >13 Jun 07:00</text>
<text x="578.6" y="486" font-size="9.8" fill="#000" stroke="#000" stroke-width="0.18" textLength="52" lengthAdjust="spacingAndGlyphs" text-rendering="geometricPrecision" xml:space="preserve" >13 Jun 23:00</text>
<text x="642.6" y="486" font-size="9.8" fill="#000" stroke="#000" stroke-width="0.18" textLength="52" lengthAdjust="spacingAndGlyphs" text-rendering="geometricPrecision" xml:space="preserve" >14 Jun 15:00</text>
<text x="706.6" y="486" font-size="9.8" fill="#000" stroke="#000" stroke-width="0.18" textLength="52" lengthAdjust="spacingAndGlyphs" text-rendering="geometricPrecision" xml:space="preserve" >15 Jun 07:00</text>
<text x="770.6" y="486" font-size="9.8" fill="#000" stroke="#000" stroke-width="0.18" textLength="52" lengthAdjust="spacingAndGlyphs" text-rendering="geometricPrecision" xml:space="preserve" >15 Jun 23:00</text>
<text x="834.6" y="486" font-size="9.8" fill="#000" stroke="#000" stroke-width="0.18" textLength="52" lengthAdjust="spacingAndGlyphs" text-rendering="geometricPrecision" xml:space="preserve" >18 Jun 15:00</text>
<text x="1078.4" y="31" font-size="9.8" fill="#000" stroke="#000" stroke-width="0.18" textLength="27" lengthAdjust="spacingAndGlyphs" text-rendering="geometricPrecision" xml:space="preserve" >1.0125</text>
<text x="1078.4" y="66" font-size="9.8" fill="#000" stroke="#000" stroke-width="0.18" textLength="27" lengthAdjust="spacingAndGlyphs" text-rendering="geometricPrecision" xml:space="preserve" >1.0075</text>
<text x="1078.4" y="101" font-size="9.8" fill="#000" stroke="#000" stroke-width="0.18" textLength="27" lengthAdjust="spacingAndGlyphs" text-rendering="geometricPrecision" xml:space="preserve" >1.0025</text>
<text x="1078.4" y="136" font-size="9.8" fill="#000" stroke="#000" stroke-width="0.18" textLength="27" lengthAdjust="spacingAndGlyphs" text-rendering="geometricPrecision" xml:space="preserve" >0.9975</text>
<text x="1078.4" y="170" font-size="9.8" fill="#000" stroke="#000" stroke-width="0.18" textLength="27" lengthAdjust="spacingAndGlyphs" text-rendering="geometricPrecision" xml:space="preserve" >0.9925</text>
<text x="1078.4" y="205" font-size="9.8" fill="#000" stroke="#000" stroke-width="0.18" textLength="27" lengthAdjust="spacingAndGlyphs" text-rendering="geometricPrecision" xml:space="preserve" >0.9875</text>
<text x="1078.4" y="240" font-size="9.8" fill="#000" stroke="#000" stroke-width="0.18" textLength="27" lengthAdjust="spacingAndGlyphs" text-rendering="geometricPrecision" xml:space="preserve" >0.9825</text>
<text x="1078.4" y="275" font-size="9.8" fill="#000" stroke="#000" stroke-width="0.18" textLength="27" lengthAdjust="spacingAndGlyphs" text-rendering="geometricPrecision" xml:space="preserve" >0.9775</text>
<text x="1078.4" y="310" font-size="9.8" fill="#000" stroke="#000" stroke-width="0.18" textLength="27" lengthAdjust="spacingAndGlyphs" text-rendering="geometricPrecision" xml:space="preserve" >0.9725</text>
<text x="1078.5" y="22" font-size="9.8" fill="#f0e68c" stroke="#f0e68c" stroke-width="0.18" textLength="27" lengthAdjust="spacingAndGlyphs" text-rendering="geometricPrecision" xml:space="preserve" >1.0137</text>
<text x="1078.5" y="48" font-size="9.8" fill="#f0e68c" stroke="#f0e68c" stroke-width="0.18" textLength="27" lengthAdjust="spacingAndGlyphs" text-rendering="geometricPrecision" xml:space="preserve" >1.0100</text>
<text x="1078.5" y="83" font-size="9.8" fill="#f0e68c" stroke="#f0e68c" stroke-width="0.18" textLength="27" lengthAdjust="spacingAndGlyphs" text-rendering="geometricPrecision" xml:space="preserve" >1.0050</text>
<text x="1076" y="324" font-size="9.8" fill="#000" stroke="#000" stroke-width="0.18" textLength="15" lengthAdjust="spacingAndGlyphs" text-rendering="geometricPrecision" xml:space="preserve" >100</text>
<text x="1076" y="329" font-size="9.8" fill="#000" stroke="#000" stroke-width="0.18" textLength="9.5" lengthAdjust="spacingAndGlyphs" text-rendering="geometricPrecision" xml:space="preserve" >80</text>
<text x="1075.3" y="363.7" font-size="9.8" fill="#000" stroke="#000" stroke-width="0.18" textLength="9.8" lengthAdjust="spacingAndGlyphs" text-rendering="geometricPrecision" xml:space="preserve" >20</text>
<text x="1076.3" y="369.6" font-size="9.8" fill="#000" stroke="#000" stroke-width="0.18" textLength="4.7" lengthAdjust="spacingAndGlyphs" text-rendering="geometricPrecision" xml:space="preserve" >0</text>
<text x="1076.4" y="386" font-size="9.8" fill="#000" stroke="#000" stroke-width="0.18" textLength="32" lengthAdjust="spacingAndGlyphs" text-rendering="geometricPrecision" xml:space="preserve" >0.00412</text>
<text x="1076.5" y="441" font-size="9.8" fill="#000" stroke="#000" stroke-width="0.18" textLength="17.5" lengthAdjust="spacingAndGlyphs" text-rendering="geometricPrecision" xml:space="preserve" >0.00</text>
<text x="1076" y="469.6" font-size="9.8" fill="#000" stroke="#000" stroke-width="0.18" textLength="31" lengthAdjust="spacingAndGlyphs" text-rendering="geometricPrecision" xml:space="preserve" >-0.0024</text>
</svg>
</body></html>
